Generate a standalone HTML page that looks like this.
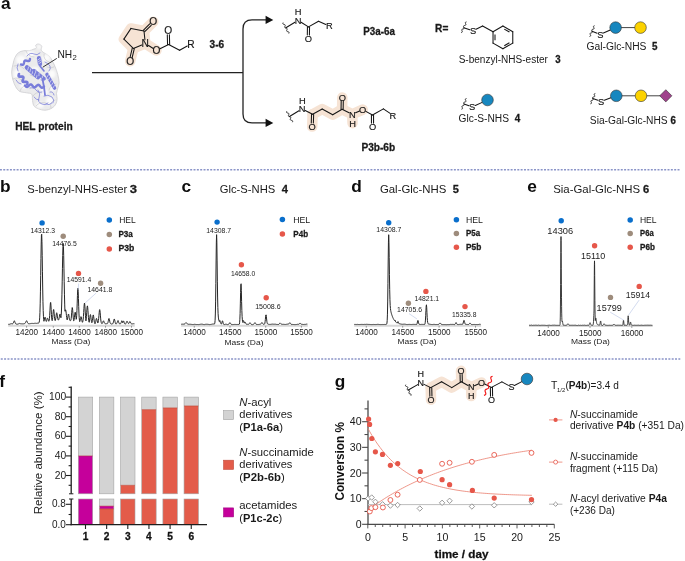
<!DOCTYPE html><html><head><meta charset="utf-8"><title>Figure</title><style>html,body{margin:0;padding:0;background:#fff;overflow:hidden}svg{display:block;will-change:transform}text{font-family:"Liberation Sans",sans-serif}</style></head><body>
<svg width="685" height="561" viewBox="0 0 685 561">
<rect width="685" height="561" fill="#fff"/>
<text x="1.10" y="8.80" font-size="16.5" fill="#0d0d0d" font-weight="bold" textLength="9.64" lengthAdjust="spacingAndGlyphs">a</text>
<defs><filter id="pb" x="-20%" y="-20%" width="140%" height="140%"><feGaussianBlur stdDeviation="0.45"/></filter><filter id="pb2" x="-20%" y="-20%" width="140%" height="140%"><feGaussianBlur stdDeviation="1.2"/></filter></defs>
<g filter="url(#pb)">
<path d="M38.4,44.0 C39.4,44.1 41.2,45.0 41.7,46.0 C42.2,47.0 40.8,48.9 41.1,50.0 C41.5,51.1 42.5,51.7 43.8,52.7 C45.1,53.7 47.8,54.8 49.1,56.0 C50.4,57.2 50.8,58.2 51.8,60.0 C52.8,61.8 54.1,64.2 55.1,66.7 C56.1,69.2 57.1,72.0 57.8,74.7 C58.5,77.4 59.1,80.6 59.1,82.8 C59.1,85.0 58.2,86.3 57.8,88.1 C57.4,89.9 56.6,91.7 56.5,93.5 C56.4,95.3 57.2,97.0 57.1,98.8 C57.0,100.6 56.7,102.5 55.8,104.1 C54.9,105.7 53.6,107.2 51.8,108.2 C50.0,109.2 47.3,110.1 45.1,110.2 C42.9,110.3 40.3,109.6 38.4,108.8 C36.5,108.0 34.7,107.2 33.7,105.5 C32.7,103.8 32.7,100.7 32.4,98.8 C32.1,96.9 32.7,95.1 31.7,94.1 C30.7,93.1 28.4,93.2 26.4,92.8 C24.4,92.3 21.5,92.4 19.7,91.4 C17.9,90.4 16.8,88.7 15.7,86.8 C14.6,84.9 13.7,82.5 13.0,80.1 C12.3,77.6 11.7,74.8 11.7,72.1 C11.7,69.4 12.4,66.5 13.0,64.1 C13.6,61.6 14.1,59.3 15.0,57.4 C15.9,55.5 16.9,53.8 18.4,52.7 C19.8,51.6 21.9,51.0 23.7,50.7 C25.5,50.4 27.5,50.9 29.1,50.7 C30.7,50.5 31.9,49.9 33.1,49.4 C34.3,48.9 36.0,48.7 36.4,48.0 C36.8,47.3 35.4,46.0 35.7,45.3 C36.0,44.6 37.4,43.9 38.4,44.0Z" fill="#ebebec" stroke="#cdcdd0" stroke-width="0.8"/>
<g filter="url(#pb2)" fill="#fbfbfb">
<ellipse cx="21" cy="60" rx="5" ry="4.5"/>
<ellipse cx="30" cy="54" rx="5" ry="3"/>
<ellipse cx="46" cy="58" rx="4" ry="3.5"/>
<ellipse cx="17" cy="74" rx="3.5" ry="5"/>
<ellipse cx="52" cy="74" rx="3.5" ry="4"/>
<ellipse cx="35" cy="70" rx="4" ry="3"/>
<ellipse cx="24" cy="86" rx="4" ry="3"/>
<ellipse cx="44" cy="92" rx="4" ry="3"/>
<ellipse cx="50" cy="101" rx="4" ry="4"/>
<ellipse cx="40" cy="105" rx="4" ry="3"/>
<ellipse cx="53" cy="88" rx="3" ry="3"/>
<ellipse cx="39" cy="47" rx="2" ry="2"/>
</g>
<g fill="none" stroke="#c4c4c8" stroke-width="0.6" stroke-linecap="round">
<path d="M14,66 q6,-2 10,3 M26,51 q2,6 8,6 M44,54 q-1,6 5,8 M13,79 q6,-3 9,2 M20,91 q2,-6 8,-6 M33,96 q3,-5 9,-3 M56,84 q-6,1 -7,6 M36,106 q4,-5 10,-3 M51,108 q-2,-6 4,-8 M30,75 q4,3 9,1 M47,67 q4,2 7,0"/>
</g>
<path d="M21.00,64.50 L21.57,64.65 L22.11,64.76 L22.59,64.77 L23.01,64.67 L23.34,64.44 L23.59,64.07 L23.78,63.60 L23.92,63.05 L24.04,62.47 L24.17,61.91 L24.34,61.41 L24.57,61.00 L24.87,60.73 L25.26,60.58 L25.72,60.56 L26.25,60.64 L26.81,60.78 L27.38,60.94 L27.93,61.06 L28.44,61.11 L28.88,61.05 L29.24,60.86 L29.52,60.54 L29.72,60.10 L29.88,59.57 L30.00,59.00" fill="none" stroke="#787cda" stroke-width="2.4" stroke-linecap="round" stroke-linejoin="round"/>
<line x1="39" y1="58" x2="40" y2="64" stroke="#787cda" stroke-width="4.2" stroke-linecap="round"/>
<line x1="40.38" y1="58.09" x2="37.96" y2="59.91" stroke="#e8e8f6" stroke-width="0.7" stroke-linecap="round"/>
<line x1="40.71" y1="60.09" x2="38.29" y2="61.91" stroke="#e8e8f6" stroke-width="0.7" stroke-linecap="round"/>
<line x1="41.04" y1="62.09" x2="38.62" y2="63.91" stroke="#e8e8f6" stroke-width="0.7" stroke-linecap="round"/>
<line x1="27" y1="67.5" x2="38" y2="77" stroke="#787cda" stroke-width="4.6" stroke-linecap="round"/>
<line x1="28.53" y1="66.88" x2="27.67" y2="70.02" stroke="#e8e8f6" stroke-width="0.7" stroke-linecap="round"/>
<line x1="30.73" y1="68.78" x2="29.87" y2="71.92" stroke="#e8e8f6" stroke-width="0.7" stroke-linecap="round"/>
<line x1="32.93" y1="70.68" x2="32.07" y2="73.82" stroke="#e8e8f6" stroke-width="0.7" stroke-linecap="round"/>
<line x1="35.13" y1="72.58" x2="34.27" y2="75.72" stroke="#e8e8f6" stroke-width="0.7" stroke-linecap="round"/>
<line x1="37.33" y1="74.48" x2="36.47" y2="77.62" stroke="#e8e8f6" stroke-width="0.7" stroke-linecap="round"/>
<line x1="34" y1="70.5" x2="44" y2="78.5" stroke="#787cda" stroke-width="3.2" stroke-linecap="round"/>
<line x1="35.76" y1="70.60" x2="35.57" y2="73.07" stroke="#e8e8f6" stroke-width="0.7" stroke-linecap="round"/>
<line x1="39.09" y1="73.26" x2="38.91" y2="75.74" stroke="#e8e8f6" stroke-width="0.7" stroke-linecap="round"/>
<line x1="42.43" y1="75.93" x2="42.24" y2="78.40" stroke="#e8e8f6" stroke-width="0.7" stroke-linecap="round"/>
<path d="M19.00,74.00 L18.78,74.66 L18.61,75.27 L18.57,75.79 L18.67,76.20 L18.95,76.48 L19.40,76.63 L19.98,76.67 L20.65,76.65 L21.35,76.60 L22.02,76.58 L22.60,76.62 L23.05,76.77 L23.33,77.05 L23.43,77.46 L23.39,77.98 L23.22,78.59 L23.00,79.25 L22.78,79.91 L22.61,80.52 L22.57,81.04 L22.67,81.45 L22.95,81.73 L23.40,81.88 L23.98,81.92 L24.65,81.90 L25.35,81.85 L26.02,81.83 L26.60,81.87 L27.05,82.02 L27.33,82.30 L27.43,82.71 L27.39,83.23 L27.22,83.84 L27.00,84.50" fill="none" stroke="#787cda" stroke-width="2.6" stroke-linecap="round" stroke-linejoin="round"/>
<path d="M25.00,85.50 L25.43,86.03 L25.85,86.50 L26.29,86.83 L26.74,86.99 L27.19,86.96 L27.66,86.74 L28.13,86.37 L28.61,85.90 L29.09,85.40 L29.57,84.95 L30.04,84.61 L30.50,84.42 L30.95,84.43 L31.40,84.62 L31.83,84.99 L32.26,85.47 L32.68,86.01 L33.11,86.54 L33.54,86.98 L33.98,87.28 L34.43,87.40 L34.88,87.33 L35.35,87.07 L35.83,86.68 L36.30,86.20 L36.78,85.71 L37.26,85.27 L37.73,84.96 L38.19,84.81 L38.64,84.85 L39.08,85.08 L39.52,85.47 L39.94,85.97 L40.37,86.52 L40.80,87.03 L41.23,87.45 L41.67,87.72 L42.12,87.80 L42.58,87.69 L43.05,87.40 L43.52,86.99 L44.00,86.50" fill="none" stroke="#787cda" stroke-width="2.4" stroke-linecap="round" stroke-linejoin="round"/>
<line x1="47" y1="74.5" x2="54.5" y2="88" stroke="#787cda" stroke-width="3.6" stroke-linecap="round"/>
<line x1="48.42" y1="74.68" x2="47.08" y2="77.02" stroke="#e8e8f6" stroke-width="0.7" stroke-linecap="round"/>
<line x1="49.92" y1="77.38" x2="48.58" y2="79.72" stroke="#e8e8f6" stroke-width="0.7" stroke-linecap="round"/>
<line x1="51.42" y1="80.08" x2="50.08" y2="82.42" stroke="#e8e8f6" stroke-width="0.7" stroke-linecap="round"/>
<line x1="52.92" y1="82.78" x2="51.58" y2="85.12" stroke="#e8e8f6" stroke-width="0.7" stroke-linecap="round"/>
<line x1="54.42" y1="85.48" x2="53.08" y2="87.82" stroke="#e8e8f6" stroke-width="0.7" stroke-linecap="round"/>
<path d="M42.5,79 L44,87 L45,95" fill="none" stroke="#787cda" stroke-width="1.8" stroke-linecap="round"/>
<path d="M40,66 L44,71" fill="none" stroke="#787cda" stroke-width="1.6" stroke-linecap="round"/>
<g fill="none" stroke="#787cda" stroke-width="0.75" stroke-linecap="round" stroke-linejoin="round">
<path d="M27,56 q3,-4 7,-2 q3,2 6,-1 M18,64 q-2,4 0,7 M16,80 q2,4 5,4 M30,88 q4,-1 6,2 q2,3 6,2 M38,90 q3,4 1,8 q-2,4 3,6 q3,2 6,-1 M44,96 q4,-2 8,1 q3,3 1,6 M46,104 q3,2 6,-1 M50,92 q3,-1 4,3 M41,80 q3,2 5,-1 M34,97 q2,3 5,3 M45,62 q3,1 5,4 q1,3 -1,5"/>
</g>
</g>
<line x1="56.80" y1="58.40" x2="42.80" y2="67.20" stroke="#222" stroke-width="0.9" />
<text x="57.40" y="57.90" font-size="10.2" fill="#1a1a1a">NH</text>
<text x="72.50" y="60.00" font-size="7.7" fill="#1a1a1a">2</text>
<text x="15.23" y="129.90" font-size="10.0" fill="#1a1a1a" font-weight="bold" stroke="#1a1a1a" stroke-width="0.28" textLength="57.5" lengthAdjust="spacingAndGlyphs">HEL protein</text>
<path d="M131.00,28.40 L144.00,31.00 L145.30,43.50 L133.30,48.40 L123.90,39.10 L131.00,28.40" fill="none" stroke="#f6e3d4" stroke-width="10.5" stroke-linejoin="round" stroke-linecap="round"/>
<path d="M144.00,31.00 L153.30,21.70" fill="none" stroke="#f6e3d4" stroke-width="10.5" stroke-linejoin="round" stroke-linecap="round"/>
<path d="M133.30,48.40 L130.20,61.30" fill="none" stroke="#f6e3d4" stroke-width="10.5" stroke-linejoin="round" stroke-linecap="round"/>
<path d="M145.30,43.50 L156.50,50.50" fill="none" stroke="#f6e3d4" stroke-width="10.5" stroke-linejoin="round" stroke-linecap="round"/>
<polygon points="131,28.4 144,31 145.3,43.5 133.3,48.4 123.9,39.1" fill="#f6e3d4"/>
<line x1="131.00" y1="28.40" x2="144.00" y2="31.00" stroke="#151515" stroke-width="1.05" stroke-linecap="round"/>
<line x1="144.00" y1="31.00" x2="144.91" y2="39.72" stroke="#151515" stroke-width="1.05" stroke-linecap="round"/>
<line x1="141.78" y1="44.94" x2="133.30" y2="48.40" stroke="#151515" stroke-width="1.05" stroke-linecap="round"/>
<line x1="133.30" y1="48.40" x2="123.90" y2="39.10" stroke="#151515" stroke-width="1.05" stroke-linecap="round"/>
<line x1="123.90" y1="39.10" x2="131.00" y2="28.40" stroke="#151515" stroke-width="1.05" stroke-linecap="round"/>
<line x1="143.26" y1="30.26" x2="149.73" y2="23.79" stroke="#151515" stroke-width="1.05" stroke-linecap="round"/>
<line x1="144.74" y1="31.74" x2="151.21" y2="25.27" stroke="#151515" stroke-width="1.05" stroke-linecap="round"/>
<line x1="134.32" y1="48.65" x2="132.16" y2="57.66" stroke="#151515" stroke-width="1.05" stroke-linecap="round"/>
<line x1="132.28" y1="48.15" x2="130.11" y2="57.17" stroke="#151515" stroke-width="1.05" stroke-linecap="round"/>
<line x1="148.52" y1="45.51" x2="153.28" y2="48.49" stroke="#151515" stroke-width="1.05" stroke-linecap="round"/>
<line x1="159.99" y1="48.77" x2="168.60" y2="44.50" stroke="#151515" stroke-width="1.05" stroke-linecap="round"/>
<line x1="167.55" y1="44.53" x2="167.30" y2="34.88" stroke="#151515" stroke-width="1.05" stroke-linecap="round"/>
<line x1="169.65" y1="44.47" x2="169.40" y2="34.82" stroke="#151515" stroke-width="1.05" stroke-linecap="round"/>
<line x1="168.60" y1="44.50" x2="179.60" y2="50.30" stroke="#151515" stroke-width="1.05" stroke-linecap="round"/>
<line x1="179.60" y1="50.30" x2="187.25" y2="45.97" stroke="#151515" stroke-width="1.05" stroke-linecap="round"/>
<text x="145.30" y="47.17" font-size="10.2" fill="#151515" text-anchor="middle" stroke="#151515" stroke-width="0.15">N</text>
<text x="153.30" y="25.37" font-size="10.2" fill="#151515" text-anchor="middle" stroke="#151515" stroke-width="0.15">O</text>
<text x="130.20" y="64.97" font-size="10.2" fill="#151515" text-anchor="middle" stroke="#151515" stroke-width="0.15">O</text>
<text x="156.50" y="54.17" font-size="10.2" fill="#151515" text-anchor="middle" stroke="#151515" stroke-width="0.15">O</text>
<text x="168.25" y="34.42" font-size="10.2" fill="#151515" text-anchor="middle" stroke="#151515" stroke-width="0.15">O</text>
<text x="190.90" y="47.57" font-size="10.2" fill="#151515" text-anchor="middle" stroke="#151515" stroke-width="0.15">R</text>
<text x="209.58" y="48.00" font-size="10.0" fill="#1a1a1a" font-weight="bold" stroke="#1a1a1a" stroke-width="0.28" textLength="14.58" lengthAdjust="spacingAndGlyphs">3-6</text>
<path d="M92,72.7 L243,72.7 M266,19.9 L252,19.9 Q243,19.9 243,28.9 L243,113.9 Q243,122.9 252,122.9 L266,122.9" fill="none" stroke="#222" stroke-width="1.3"/>
<path d="M265.6,15.8 L273.3,19.9 L265.6,24 Z M265.6,118.8 L273.3,122.9 L265.6,127 Z" fill="#111"/>
<path d="M283.10,22.60 L282.94,23.03 L282.85,23.43 L282.87,23.76 L283.04,24.02 L283.34,24.21 L283.75,24.34 L284.20,24.45 L284.63,24.58 L284.97,24.74 L285.19,24.98 L285.26,25.29 L285.20,25.67 L285.06,26.09 L284.89,26.52 L284.77,26.93 L284.75,27.29 L284.87,27.58 L285.13,27.79 L285.51,27.94 L285.95,28.05 L286.39,28.16 L286.77,28.31 L287.03,28.52 L287.15,28.81 L287.13,29.17 L287.01,29.58 L286.84,30.01 L286.70,30.43 L286.64,30.81 L286.71,31.12 L286.93,31.36 L287.27,31.52 L287.70,31.65 L288.15,31.76 L288.56,31.89 L288.86,32.08 L289.03,32.34 L289.05,32.67 L288.96,33.07 L288.80,33.50" fill="none" stroke="#151515" stroke-width="0.9"/>
<line x1="285.90" y1="27.80" x2="294.94" y2="22.20" stroke="#151515" stroke-width="1.05" stroke-linecap="round"/>
<line x1="301.05" y1="22.22" x2="308.50" y2="26.90" stroke="#151515" stroke-width="1.05" stroke-linecap="round"/>
<line x1="309.55" y1="26.92" x2="309.41" y2="34.92" stroke="#151515" stroke-width="1.05" stroke-linecap="round"/>
<line x1="307.45" y1="26.88" x2="307.31" y2="34.88" stroke="#151515" stroke-width="1.05" stroke-linecap="round"/>
<line x1="308.50" y1="26.90" x2="318.50" y2="21.20" stroke="#151515" stroke-width="1.05" stroke-linecap="round"/>
<line x1="318.50" y1="21.20" x2="325.84" y2="24.53" stroke="#151515" stroke-width="1.05" stroke-linecap="round"/>
<text x="298.00" y="23.65" font-size="9.3" fill="#151515" text-anchor="middle" stroke="#151515" stroke-width="0.15">N</text>
<text x="298.20" y="15.35" font-size="9.3" fill="#151515" text-anchor="middle" stroke="#151515" stroke-width="0.15">H</text>
<text x="308.30" y="41.85" font-size="9.3" fill="#151515" text-anchor="middle" stroke="#151515" stroke-width="0.15">O</text>
<text x="329.30" y="29.45" font-size="9.3" fill="#151515" text-anchor="middle" stroke="#151515" stroke-width="0.15">R</text>
<text x="363.15" y="35.00" font-size="10.5" fill="#1a1a1a" font-weight="bold" stroke="#1a1a1a" stroke-width="0.28" textLength="31.79" lengthAdjust="spacingAndGlyphs">P3a-6a</text>
<path d="M312.60,114.30 L322.20,109.00 L332.70,114.70 L342.10,109.30 L352.30,114.30 L362.70,109.60" fill="none" stroke="#f6e3d4" stroke-width="10.5" stroke-linejoin="round" stroke-linecap="round"/>
<path d="M312.60,114.30 L312.20,126.60" fill="none" stroke="#f6e3d4" stroke-width="10.5" stroke-linejoin="round" stroke-linecap="round"/>
<path d="M342.10,109.30 L342.30,97.50" fill="none" stroke="#f6e3d4" stroke-width="10.5" stroke-linejoin="round" stroke-linecap="round"/>
<path d="M352.30,114.30 L352.50,123.20" fill="none" stroke="#f6e3d4" stroke-width="10.5" stroke-linejoin="round" stroke-linecap="round"/>
<path d="M286.80,111.20 L286.64,111.63 L286.54,112.03 L286.56,112.36 L286.72,112.62 L287.03,112.82 L287.43,112.96 L287.88,113.07 L288.31,113.20 L288.66,113.37 L288.87,113.61 L288.94,113.92 L288.87,114.30 L288.72,114.72 L288.55,115.16 L288.43,115.57 L288.40,115.92 L288.52,116.21 L288.78,116.43 L289.16,116.58 L289.60,116.70 L290.04,116.82 L290.42,116.97 L290.68,117.19 L290.80,117.48 L290.77,117.83 L290.65,118.24 L290.48,118.68 L290.33,119.10 L290.26,119.48 L290.33,119.79 L290.54,120.03 L290.89,120.20 L291.32,120.33 L291.77,120.44 L292.17,120.58 L292.48,120.78 L292.64,121.04 L292.66,121.37 L292.56,121.77 L292.40,122.20" fill="none" stroke="#151515" stroke-width="0.9"/>
<line x1="289.50" y1="116.50" x2="298.93" y2="110.69" stroke="#151515" stroke-width="1.05" stroke-linecap="round"/>
<line x1="305.20" y1="110.46" x2="312.60" y2="114.30" stroke="#151515" stroke-width="1.05" stroke-linecap="round"/>
<line x1="313.65" y1="114.33" x2="313.37" y2="123.04" stroke="#151515" stroke-width="1.05" stroke-linecap="round"/>
<line x1="311.55" y1="114.27" x2="311.27" y2="122.97" stroke="#151515" stroke-width="1.05" stroke-linecap="round"/>
<line x1="312.60" y1="114.30" x2="322.20" y2="109.00" stroke="#151515" stroke-width="1.05" stroke-linecap="round"/>
<line x1="322.20" y1="109.00" x2="332.70" y2="114.70" stroke="#151515" stroke-width="1.05" stroke-linecap="round"/>
<line x1="332.70" y1="114.70" x2="342.10" y2="109.30" stroke="#151515" stroke-width="1.05" stroke-linecap="round"/>
<line x1="341.05" y1="109.28" x2="341.19" y2="101.08" stroke="#151515" stroke-width="1.05" stroke-linecap="round"/>
<line x1="343.15" y1="109.32" x2="343.29" y2="101.12" stroke="#151515" stroke-width="1.05" stroke-linecap="round"/>
<line x1="342.10" y1="109.30" x2="349.07" y2="112.72" stroke="#151515" stroke-width="1.05" stroke-linecap="round"/>
<line x1="355.58" y1="112.82" x2="359.60" y2="111.00" stroke="#151515" stroke-width="1.05" stroke-linecap="round"/>
<line x1="365.85" y1="111.34" x2="372.50" y2="115.00" stroke="#151515" stroke-width="1.05" stroke-linecap="round"/>
<line x1="373.55" y1="115.00" x2="373.55" y2="123.10" stroke="#151515" stroke-width="1.05" stroke-linecap="round"/>
<line x1="371.45" y1="115.00" x2="371.45" y2="123.10" stroke="#151515" stroke-width="1.05" stroke-linecap="round"/>
<line x1="372.50" y1="115.00" x2="383.40" y2="108.90" stroke="#151515" stroke-width="1.05" stroke-linecap="round"/>
<line x1="383.40" y1="108.90" x2="389.75" y2="113.18" stroke="#151515" stroke-width="1.05" stroke-linecap="round"/>
<text x="302.00" y="112.15" font-size="9.3" fill="#151515" text-anchor="middle" stroke="#151515" stroke-width="0.15">N</text>
<text x="302.30" y="103.65" font-size="9.3" fill="#151515" text-anchor="middle" stroke="#151515" stroke-width="0.15">H</text>
<text x="312.20" y="129.95" font-size="9.3" fill="#151515" text-anchor="middle" stroke="#151515" stroke-width="0.15">O</text>
<text x="342.30" y="100.85" font-size="9.3" fill="#151515" text-anchor="middle" stroke="#151515" stroke-width="0.15">O</text>
<text x="352.30" y="117.65" font-size="9.3" fill="#151515" text-anchor="middle" stroke="#151515" stroke-width="0.15">N</text>
<text x="352.50" y="126.55" font-size="9.3" fill="#151515" text-anchor="middle" stroke="#151515" stroke-width="0.15">H</text>
<text x="362.70" y="112.95" font-size="9.3" fill="#151515" text-anchor="middle" stroke="#151515" stroke-width="0.15">O</text>
<text x="372.50" y="130.05" font-size="9.3" fill="#151515" text-anchor="middle" stroke="#151515" stroke-width="0.15">O</text>
<text x="392.90" y="118.65" font-size="9.3" fill="#151515" text-anchor="middle" stroke="#151515" stroke-width="0.15">R</text>
<text x="361.43" y="150.60" font-size="10.5" fill="#1a1a1a" font-weight="bold" stroke="#1a1a1a" stroke-width="0.28" textLength="33.78" lengthAdjust="spacingAndGlyphs">P3b-6b</text>
<text x="435.13" y="31.90" font-size="10" fill="#1a1a1a" font-weight="bold" stroke="#1a1a1a" stroke-width="0.28" textLength="13.18" lengthAdjust="spacingAndGlyphs">R=</text>
<path d="M466.50,21.90 L466.06,22.01 L465.69,22.16 L465.43,22.37 L465.32,22.65 L465.35,23.00 L465.48,23.40 L465.66,23.83 L465.81,24.24 L465.88,24.61 L465.82,24.91 L465.61,25.14 L465.27,25.31 L464.85,25.43 L464.40,25.54 L464.00,25.67 L463.70,25.86 L463.54,26.11 L463.53,26.44 L463.63,26.83 L463.80,27.25 L463.97,27.67 L464.07,28.06 L464.06,28.39 L463.90,28.64 L463.60,28.83 L463.20,28.96 L462.75,29.07 L462.33,29.19 L461.99,29.36 L461.78,29.59 L461.72,29.89 L461.79,30.26 L461.94,30.67 L462.12,31.10 L462.25,31.50 L462.28,31.85 L462.17,32.13 L461.91,32.34 L461.54,32.49 L461.10,32.60" fill="none" stroke="#151515" stroke-width="0.9"/>
<line x1="463.80" y1="27.80" x2="469.77" y2="29.75" stroke="#151515" stroke-width="1.05" stroke-linecap="round"/>
<line x1="476.04" y1="29.28" x2="482.60" y2="26.00" stroke="#151515" stroke-width="1.05" stroke-linecap="round"/>
<line x1="482.60" y1="26.00" x2="493.03" y2="31.70" stroke="#151515" stroke-width="1.05" stroke-linecap="round"/>
<line x1="493.03" y1="31.70" x2="502.90" y2="26.00" stroke="#151515" stroke-width="1.05" stroke-linecap="round"/>
<line x1="502.90" y1="26.00" x2="512.77" y2="31.70" stroke="#151515" stroke-width="1.05" stroke-linecap="round"/>
<line x1="512.77" y1="31.70" x2="512.77" y2="43.10" stroke="#151515" stroke-width="1.05" stroke-linecap="round"/>
<line x1="512.77" y1="43.10" x2="502.90" y2="48.80" stroke="#151515" stroke-width="1.05" stroke-linecap="round"/>
<line x1="502.90" y1="48.80" x2="493.03" y2="43.10" stroke="#151515" stroke-width="1.05" stroke-linecap="round"/>
<line x1="493.03" y1="43.10" x2="493.03" y2="31.70" stroke="#151515" stroke-width="1.05" stroke-linecap="round"/>
<line x1="504.29" y1="29.08" x2="509.41" y2="32.04" stroke="#151515" stroke-width="1.05" />
<line x1="509.41" y1="42.76" x2="504.29" y2="45.72" stroke="#151515" stroke-width="1.05" />
<line x1="495.00" y1="40.36" x2="495.00" y2="34.44" stroke="#151515" stroke-width="1.05" />
<text x="473.00" y="34.15" font-size="9.3" fill="#151515" text-anchor="middle" stroke="#151515" stroke-width="0.15">S</text>
<text x="458.65" y="62.60" font-size="10" fill="#1a1a1a" textLength="89.31" lengthAdjust="spacingAndGlyphs">S-benzyl-NHS-ester</text>
<text x="555.19" y="62.60" font-size="10" fill="#1a1a1a" font-weight="bold" stroke="#1a1a1a" stroke-width="0.28" textLength="5.35" lengthAdjust="spacingAndGlyphs">3</text>
<path d="M466.50,98.50 L466.07,98.62 L465.70,98.77 L465.45,98.98 L465.35,99.26 L465.38,99.61 L465.53,100.01 L465.71,100.42 L465.88,100.83 L465.96,101.20 L465.90,101.50 L465.70,101.73 L465.37,101.90 L464.95,102.03 L464.51,102.15 L464.11,102.28 L463.82,102.47 L463.66,102.73 L463.66,103.05 L463.77,103.44 L463.95,103.85 L464.13,104.26 L464.24,104.65 L464.24,104.97 L464.08,105.23 L463.79,105.42 L463.39,105.55 L462.95,105.67 L462.53,105.80 L462.20,105.97 L462.00,106.20 L461.94,106.50 L462.02,106.87 L462.19,107.28 L462.37,107.69 L462.52,108.09 L462.55,108.44 L462.45,108.72 L462.20,108.93 L461.83,109.08 L461.40,109.20" fill="none" stroke="#151515" stroke-width="0.9"/>
<line x1="464.00" y1="104.00" x2="468.98" y2="105.70" stroke="#151515" stroke-width="1.05" stroke-linecap="round"/>
<line x1="475.31" y1="105.42" x2="482.20" y2="102.36" stroke="#151515" stroke-width="1.05" stroke-linecap="round"/>
<text x="472.20" y="110.15" font-size="9.3" fill="#151515" text-anchor="middle" stroke="#151515" stroke-width="0.15">S</text>
<circle cx="487.5" cy="100.0" r="5.8" fill="#1787bf" stroke="#333" stroke-width="0.6"/>
<text x="458.59" y="121.70" font-size="10" fill="#1a1a1a" textLength="50.47" lengthAdjust="spacingAndGlyphs">Glc-S-NHS</text>
<text x="514.65" y="121.70" font-size="10" fill="#1a1a1a" font-weight="bold" stroke="#1a1a1a" stroke-width="0.28" textLength="5.5" lengthAdjust="spacingAndGlyphs">4</text>
<path d="M594.60,25.70 L594.16,25.82 L593.80,25.98 L593.55,26.19 L593.45,26.48 L593.48,26.82 L593.63,27.22 L593.81,27.64 L593.98,28.05 L594.06,28.42 L594.00,28.72 L593.80,28.96 L593.47,29.13 L593.05,29.26 L592.61,29.38 L592.21,29.52 L591.92,29.72 L591.76,29.97 L591.76,30.30 L591.87,30.68 L592.05,31.10 L592.23,31.52 L592.34,31.90 L592.34,32.23 L592.18,32.48 L591.89,32.68 L591.49,32.82 L591.05,32.94 L590.63,33.07 L590.30,33.24 L590.10,33.48 L590.04,33.78 L590.12,34.15 L590.29,34.56 L590.47,34.98 L590.62,35.38 L590.65,35.72 L590.55,36.01 L590.30,36.22 L589.94,36.38 L589.50,36.50" fill="none" stroke="#151515" stroke-width="0.9"/>
<line x1="592.00" y1="31.20" x2="597.13" y2="33.18" stroke="#151515" stroke-width="1.05" stroke-linecap="round"/>
<line x1="603.41" y1="33.02" x2="610.30" y2="29.96" stroke="#151515" stroke-width="1.05" stroke-linecap="round"/>
<text x="600.30" y="37.75" font-size="9.3" fill="#151515" text-anchor="middle" stroke="#151515" stroke-width="0.15">S</text>
<line x1="615.60" y1="27.60" x2="640.50" y2="27.60" stroke="#444" stroke-width="1.0" />
<circle cx="615.6" cy="27.6" r="5.8" fill="#1787bf" stroke="#333" stroke-width="0.6"/>
<circle cx="640.5" cy="27.6" r="5.8" fill="#fcd200" stroke="#333" stroke-width="0.6"/>
<text x="586.49" y="49.80" font-size="10" fill="#1a1a1a" textLength="59.97" lengthAdjust="spacingAndGlyphs">Gal-Glc-NHS</text>
<text x="651.91" y="49.80" font-size="10" fill="#1a1a1a" font-weight="bold" stroke="#1a1a1a" stroke-width="0.28" textLength="5.46" lengthAdjust="spacingAndGlyphs">5</text>
<path d="M595.30,93.50 L594.87,93.61 L594.51,93.75 L594.26,93.95 L594.17,94.22 L594.21,94.56 L594.36,94.95 L594.55,95.35 L594.72,95.75 L594.80,96.10 L594.75,96.40 L594.56,96.62 L594.23,96.78 L593.81,96.90 L593.38,97.01 L592.98,97.13 L592.70,97.31 L592.55,97.56 L592.55,97.87 L592.67,98.25 L592.85,98.65 L593.03,99.05 L593.15,99.43 L593.15,99.74 L593.00,99.99 L592.72,100.17 L592.32,100.29 L591.89,100.40 L591.47,100.52 L591.14,100.68 L590.95,100.90 L590.90,101.20 L590.98,101.55 L591.15,101.95 L591.34,102.35 L591.49,102.74 L591.53,103.08 L591.44,103.35 L591.19,103.55 L590.83,103.69 L590.40,103.80" fill="none" stroke="#151515" stroke-width="0.9"/>
<line x1="592.80" y1="98.60" x2="597.88" y2="100.31" stroke="#151515" stroke-width="1.05" stroke-linecap="round"/>
<line x1="604.29" y1="100.22" x2="610.86" y2="97.81" stroke="#151515" stroke-width="1.05" stroke-linecap="round"/>
<text x="601.10" y="104.75" font-size="9.3" fill="#151515" text-anchor="middle" stroke="#151515" stroke-width="0.15">S</text>
<line x1="616.30" y1="95.80" x2="665.80" y2="95.80" stroke="#444" stroke-width="1.0" />
<circle cx="616.3" cy="95.8" r="5.8" fill="#1787bf" stroke="#333" stroke-width="0.6"/>
<circle cx="641.0" cy="95.8" r="5.8" fill="#fcd200" stroke="#333" stroke-width="0.6"/>
<polygon points="659.6999999999999,95.8 665.8,89.7 671.9,95.8 665.8,101.89999999999999" fill="#a0428c" stroke="#333" stroke-width="0.6"/>
<text x="589.84" y="124.40" font-size="10" fill="#1a1a1a" textLength="77.82" lengthAdjust="spacingAndGlyphs">Sia-Gal-Glc-NHS</text>
<text x="670.55" y="124.40" font-size="10" fill="#1a1a1a" font-weight="bold" stroke="#1a1a1a" stroke-width="0.28" textLength="5.39" lengthAdjust="spacingAndGlyphs">6</text>
<line x1="-0.1" y1="169.7" x2="679.5" y2="169.7" stroke="#8a94c8" stroke-width="1.5" stroke-dasharray="2 1.338"/>
<line x1="0.75" y1="358.9" x2="680.3" y2="358.9" stroke="#8a94c8" stroke-width="1.5" stroke-dasharray="2 1.338"/>
<text x="-0.03" y="191.60" font-size="16.5" fill="#0d0d0d" font-weight="bold" textLength="10.58" lengthAdjust="spacingAndGlyphs">b</text>
<text x="27.29" y="193.00" font-size="11" fill="#1a1a1a" textLength="100.09" lengthAdjust="spacingAndGlyphs">S-benzyl-NHS-ester</text>
<text x="129.71" y="193.00" font-size="11" fill="#1a1a1a" font-weight="bold" stroke="#1a1a1a" stroke-width="0.28" textLength="7.24" lengthAdjust="spacingAndGlyphs">3</text>
<line x1="8.2" y1="325.7" x2="134.7" y2="325.7" stroke="#d7d7d7" stroke-width="2"/>
<line x1="26.60" y1="325.90" x2="26.60" y2="327.70" stroke="#777" stroke-width="0.7" />
<text x="15.48" y="335.40" font-size="8.3" fill="#222" textLength="22.63" lengthAdjust="spacingAndGlyphs">14200</text>
<line x1="53.30" y1="325.90" x2="53.30" y2="327.70" stroke="#777" stroke-width="0.7" />
<text x="42.18" y="335.40" font-size="8.3" fill="#222" textLength="22.63" lengthAdjust="spacingAndGlyphs">14400</text>
<line x1="79.30" y1="325.90" x2="79.30" y2="327.70" stroke="#777" stroke-width="0.7" />
<text x="68.18" y="335.40" font-size="8.3" fill="#222" textLength="22.63" lengthAdjust="spacingAndGlyphs">14600</text>
<line x1="105.50" y1="325.90" x2="105.50" y2="327.70" stroke="#777" stroke-width="0.7" />
<text x="94.38" y="335.40" font-size="8.3" fill="#222" textLength="22.63" lengthAdjust="spacingAndGlyphs">14800</text>
<line x1="131.50" y1="325.90" x2="131.50" y2="327.70" stroke="#777" stroke-width="0.7" />
<text x="120.38" y="335.40" font-size="8.3" fill="#222" textLength="22.63" lengthAdjust="spacingAndGlyphs">15000</text>
<path d="M8.20,324.38 L8.45,324.43 L8.70,324.23 L8.95,324.18 L9.20,324.24 L9.45,324.24 L9.70,324.27 L9.95,324.14 L10.20,324.04 L10.45,323.94 L10.70,323.87 L10.95,323.98 L11.20,323.89 L11.45,323.74 L11.70,323.67 L11.95,323.67 L12.20,323.79 L12.45,323.71 L12.70,323.76 L12.95,323.53 L13.20,323.23 L13.45,322.73 L13.70,321.99 L13.95,321.42 L14.20,320.87 L14.45,320.81 L14.70,321.46 L14.95,322.18 L15.20,322.88 L15.45,323.43 L15.70,323.78 L15.95,324.04 L16.20,323.95 L16.45,324.11 L16.70,324.21 L16.95,324.21 L17.20,324.21 L17.45,324.21 L17.70,324.09 L17.95,324.02 L18.20,323.91 L18.45,323.88 L18.70,323.75 L18.95,323.73 L19.20,323.53 L19.45,323.49 L19.70,323.50 L19.95,323.48 L20.20,323.61 L20.45,323.68 L20.70,323.72 L20.95,323.76 L21.20,323.78 L21.45,323.78 L21.70,323.84 L21.95,323.77 L22.20,323.86 L22.45,323.86 L22.70,323.77 L22.95,323.86 L23.20,323.83 L23.45,323.80 L23.70,323.79 L23.95,323.60 L24.20,323.62 L24.45,323.63 L24.70,323.45 L24.95,323.47 L25.20,323.26 L25.45,322.97 L25.70,322.35 L25.95,321.73 L26.20,321.19 L26.45,320.89 L26.70,320.67 L26.95,321.12 L27.20,321.73 L27.45,322.39 L27.70,322.80 L27.95,323.35 L28.20,323.55 L28.45,323.65 L28.70,323.67 L28.95,323.84 L29.20,323.76 L29.45,323.78 L29.70,323.71 L29.95,323.75 L30.20,323.61 L30.45,323.62 L30.70,323.56 L30.95,323.45 L31.20,323.40 L31.45,323.51 L31.70,323.35 L31.95,323.24 L32.20,323.36 L32.45,323.39 L32.70,323.42 L32.95,323.44 L33.20,323.51 L33.45,323.52 L33.70,323.40 L33.95,323.43 L34.20,323.42 L34.45,323.38 L34.70,323.27 L34.95,323.27 L35.20,323.37 L35.45,323.25 L35.70,323.22 L35.95,323.29 L36.20,323.32 L36.45,323.44 L36.70,323.26 L36.95,323.31 L37.20,323.22 L37.45,323.20 L37.70,323.21 L37.95,323.13 L38.20,323.10 L38.45,323.10 L38.70,323.02 L38.95,322.82 L39.20,322.18 L39.45,320.85 L39.70,317.85 L39.95,312.50 L40.20,303.80 L40.45,291.15 L40.70,275.40 L40.95,258.62 L41.20,244.09 L41.45,235.16 L41.70,234.23 L41.95,241.61 L42.20,255.27 L42.45,271.81 L42.70,287.97 L42.95,301.22 L43.20,310.47 L43.45,316.32 L43.70,319.62 L43.95,321.28 L44.20,320.28 L44.45,319.05 L44.70,317.81 L44.95,317.15 L45.20,317.27 L45.45,318.29 L45.70,319.59 L45.95,320.73 L46.20,321.42 L46.45,321.33 L46.70,320.51 L46.95,319.55 L47.20,318.50 L47.45,318.07 L47.70,318.18 L47.95,318.87 L48.20,319.75 L48.45,320.68 L48.70,321.17 L48.95,321.24 L49.20,320.32 L49.45,318.57 L49.70,315.33 L49.95,310.87 L50.20,305.98 L50.45,302.72 L50.70,302.36 L50.95,305.12 L51.20,309.77 L51.45,314.56 L51.70,318.03 L51.95,320.05 L52.20,320.66 L52.45,319.61 L52.70,317.63 L52.95,314.76 L53.20,311.82 L53.45,309.73 L53.70,309.45 L53.95,311.05 L54.20,313.89 L54.45,316.80 L54.70,318.88 L54.95,320.02 L55.20,320.62 L55.45,320.05 L55.70,318.94 L55.95,317.27 L56.20,315.25 L56.45,313.44 L56.70,312.74 L56.95,313.37 L57.20,314.97 L57.45,316.93 L57.70,318.53 L57.95,319.46 L58.20,319.95 L58.45,320.11 L58.70,319.72 L58.95,318.93 L59.20,317.70 L59.45,316.23 L59.70,314.79 L59.95,313.99 L60.20,314.36 L60.45,315.47 L60.70,317.00 L60.95,317.78 L61.20,315.29 L61.45,311.00 L61.70,304.00 L61.95,294.18 L62.20,281.83 L62.45,268.23 L62.70,255.62 L62.95,246.71 L63.20,243.42 L63.45,246.64 L63.70,255.54 L63.95,268.13 L64.20,281.76 L64.45,294.18 L64.70,304.09 L64.95,311.23 L65.20,311.20 L65.45,309.83 L65.70,309.87 L65.95,311.06 L66.20,313.20 L66.45,315.47 L66.70,317.59 L66.95,319.08 L67.20,320.00 L67.45,319.36 L67.70,318.07 L67.95,316.31 L68.20,314.83 L68.45,313.99 L68.70,314.36 L68.95,315.70 L69.20,317.45 L69.45,318.84 L69.70,319.84 L69.95,320.49 L70.20,320.77 L70.45,320.71 L70.70,320.51 L70.95,319.87 L71.20,318.49 L71.45,315.95 L71.70,312.79 L71.95,309.56 L72.20,307.54 L72.45,307.79 L72.70,310.29 L72.95,313.81 L73.20,317.11 L73.45,319.33 L73.70,320.80 L73.95,320.59 L74.20,319.23 L74.45,317.28 L74.70,314.95 L74.95,312.94 L75.20,312.19 L75.45,312.98 L75.70,315.09 L75.95,317.43 L76.20,319.34 L76.45,318.96 L76.70,315.62 L76.95,310.35 L77.20,303.11 L77.45,295.44 L77.70,289.83 L77.95,288.28 L78.20,291.66 L78.45,298.51 L78.70,306.34 L78.95,313.10 L79.20,317.67 L79.45,320.28 L79.70,321.65 L79.95,321.11 L80.20,320.12 L80.45,318.56 L80.70,317.32 L80.95,316.62 L81.20,316.92 L81.45,318.06 L81.70,319.53 L81.95,320.79 L82.20,321.83 L82.45,322.31 L82.70,321.88 L82.95,320.87 L83.20,319.09 L83.45,316.33 L83.70,312.53 L83.95,308.32 L84.20,304.74 L84.45,303.08 L84.70,303.82 L84.95,306.87 L85.20,311.11 L85.45,315.31 L85.70,318.60 L85.95,320.88 L86.20,319.17 L86.45,316.33 L86.70,312.72 L86.95,309.08 L87.20,306.48 L87.45,305.87 L87.70,307.27 L87.95,310.47 L88.20,314.19 L88.45,317.65 L88.70,320.21 L88.95,321.83 L89.20,322.29 L89.45,320.94 L89.70,318.93 L89.95,316.83 L90.20,315.08 L90.45,314.57 L90.70,315.54 L90.95,317.63 L91.20,319.84 L91.45,321.42 L91.70,322.52 L91.95,322.75 L92.20,321.86 L92.45,320.30 L92.70,318.12 L92.95,316.13 L93.20,314.95 L93.45,315.15 L93.70,316.79 L93.95,318.94 L94.20,321.02 L94.45,322.38 L94.70,323.22 L94.95,323.80 L95.20,323.49 L95.45,322.68 L95.70,321.50 L95.95,320.22 L96.20,319.03 L96.45,318.38 L96.70,318.70 L96.95,319.64 L97.20,320.92 L97.45,321.99 L97.70,322.80 L97.95,322.94 L98.20,321.98 L98.45,320.53 L98.70,318.33 L98.95,315.56 L99.20,312.75 L99.45,310.37 L99.70,309.58 L99.95,310.49 L100.20,312.83 L100.45,315.88 L100.70,318.90 L100.95,321.07 L101.20,322.36 L101.45,323.13 L101.70,323.51 L101.95,323.68 L102.20,323.54 L102.45,323.23 L102.70,322.64 L102.95,321.82 L103.20,321.10 L103.45,320.84 L103.70,320.91 L103.95,321.63 L104.20,322.38 L104.45,322.99 L104.70,323.32 L104.95,323.54 L105.20,323.68 L105.45,323.70 L105.70,323.75 L105.95,323.83 L106.20,323.70 L106.45,323.73 L106.70,323.72 L106.95,323.69 L107.20,323.69 L107.45,323.46 L107.70,323.28 L107.95,322.58 L108.20,321.46 L108.45,320.28 L108.70,318.93 L108.95,318.44 L109.20,318.70 L109.45,319.65 L109.70,321.13 L109.95,322.29 L110.20,323.05 L110.45,323.45 L110.70,323.67 L110.95,323.87 L111.20,323.91 L111.45,323.94 L111.70,324.03 L111.95,323.91 L112.20,323.81 L112.45,323.80 L112.70,323.81 L112.95,323.43 L113.20,322.85 L113.45,321.83 L113.70,320.80 L113.95,319.64 L114.20,319.03 L114.45,319.15 L114.70,320.08 L114.95,321.26 L115.20,322.45 L115.45,323.29 L115.70,323.87 L115.95,324.00 L116.20,323.96 L116.45,323.73 L116.70,323.50 L116.95,322.97 L117.20,322.44 L117.45,321.65 L117.70,320.99 L117.95,320.49 L118.20,320.66 L118.45,321.41 L118.70,322.30 L118.95,323.03 L119.20,323.58 L119.45,323.68 L119.70,323.72 L119.95,323.64 L120.20,323.72 L120.45,323.67 L120.70,323.55 L120.95,323.14 L121.20,322.50 L121.45,321.61 L121.70,320.88 L121.95,320.70 L122.20,321.18 L122.45,322.04 L122.70,322.75 L122.95,322.32 L123.20,321.50 L123.45,320.97 L123.70,320.98 L123.95,321.66 L124.20,322.55 L124.45,323.42 L124.70,323.77 L124.95,324.08 L125.20,324.01 L125.45,324.01 L125.70,323.82 L125.95,323.43 L126.20,322.87 L126.45,322.19 L126.70,321.50 L126.95,321.22 L127.20,321.29 L127.45,321.88 L127.70,322.42 L127.95,322.86 L128.20,323.29 L128.45,323.50 L128.70,323.54 L128.95,323.35 L129.20,322.90 L129.45,322.27 L129.70,321.67 L129.95,321.51 L130.20,321.70 L130.45,322.15 L130.70,322.89 L130.95,323.27 L131.20,323.50 L131.45,323.82 L131.70,323.94 L131.95,323.85 L132.20,323.78 L132.45,323.85 L132.70,323.87 L132.95,323.74 L133.20,323.76 L133.45,323.76 L133.70,323.68 L133.95,323.67 L134.20,323.77 L134.45,323.73" fill="none" stroke="#262626" stroke-width="1.0" stroke-linejoin="round"/>
<circle cx="42.1" cy="222.9" r="2.7" fill="#0a6fcc"/>
<circle cx="63.2" cy="236.2" r="2.7" fill="#9e8c7c"/>
<circle cx="78.5" cy="273.4" r="2.7" fill="#e6574a"/>
<circle cx="100.6" cy="283.3" r="2.7" fill="#9e8c7c"/>
<text x="30.48" y="232.70" font-size="6.8" fill="#222" textLength="24.51" lengthAdjust="spacingAndGlyphs">14312.3</text>
<text x="52.18" y="245.80" font-size="6.8" fill="#222" textLength="24.59" lengthAdjust="spacingAndGlyphs">14476.5</text>
<text x="66.68" y="282.30" font-size="6.8" fill="#222" textLength="24.51" lengthAdjust="spacingAndGlyphs">14591.4</text>
<text x="87.48" y="291.90" font-size="6.8" fill="#222" textLength="24.82" lengthAdjust="spacingAndGlyphs">14641.8</text>
<line x1="78.70" y1="283.50" x2="78.10" y2="290.10" stroke="#b6c2e4" stroke-width="0.6" />
<line x1="96.20" y1="293.00" x2="85.10" y2="303.00" stroke="#b6c2e4" stroke-width="0.6" />
<text x="51.41" y="344.40" font-size="7.8" fill="#222" textLength="39.02" lengthAdjust="spacingAndGlyphs">Mass (Da)</text>
<circle cx="109.3" cy="219.9" r="2.75" fill="#0a6fcc"/>
<circle cx="109.3" cy="234.6" r="2.75" fill="#9e8c7c"/>
<circle cx="109.3" cy="248.9" r="2.75" fill="#e6574a"/>
<text x="119.20" y="222.70" font-size="9.0" fill="#1a1a1a" textLength="16.58" lengthAdjust="spacingAndGlyphs">HEL</text>
<text x="118.47" y="236.80" font-size="8.6" fill="#1a1a1a" font-weight="bold" stroke="#1a1a1a" stroke-width="0.28" textLength="14.38" lengthAdjust="spacingAndGlyphs">P3a</text>
<text x="118.43" y="251.00" font-size="8.6" fill="#1a1a1a" font-weight="bold" stroke="#1a1a1a" stroke-width="0.28" textLength="15.82" lengthAdjust="spacingAndGlyphs">P3b</text>
<text x="181.42" y="191.70" font-size="16.5" fill="#0d0d0d" font-weight="bold" textLength="9.64" lengthAdjust="spacingAndGlyphs">c</text>
<text x="219.74" y="193.10" font-size="11" fill="#1a1a1a" textLength="55.57" lengthAdjust="spacingAndGlyphs">Glc-S-NHS</text>
<text x="281.83" y="193.10" font-size="11" fill="#1a1a1a" font-weight="bold" stroke="#1a1a1a" stroke-width="0.28" textLength="6.23" lengthAdjust="spacingAndGlyphs">4</text>
<line x1="181.1" y1="325.7" x2="307.8" y2="325.7" stroke="#d7d7d7" stroke-width="2"/>
<line x1="194.30" y1="325.90" x2="194.30" y2="327.70" stroke="#777" stroke-width="0.7" />
<text x="183.18" y="335.40" font-size="8.3" fill="#222" textLength="22.63" lengthAdjust="spacingAndGlyphs">14000</text>
<line x1="230.00" y1="325.90" x2="230.00" y2="327.70" stroke="#777" stroke-width="0.7" />
<text x="218.88" y="335.40" font-size="8.3" fill="#222" textLength="22.63" lengthAdjust="spacingAndGlyphs">14500</text>
<line x1="265.70" y1="325.90" x2="265.70" y2="327.70" stroke="#777" stroke-width="0.7" />
<text x="254.58" y="335.40" font-size="8.3" fill="#222" textLength="22.63" lengthAdjust="spacingAndGlyphs">15000</text>
<line x1="301.40" y1="325.90" x2="301.40" y2="327.70" stroke="#777" stroke-width="0.7" />
<text x="290.28" y="335.40" font-size="8.3" fill="#222" textLength="22.63" lengthAdjust="spacingAndGlyphs">15500</text>
<path d="M181.10,324.23 L181.35,324.24 L181.60,324.19 L181.85,324.22 L182.10,324.18 L182.35,324.20 L182.60,324.19 L182.85,324.12 L183.10,324.16 L183.35,324.19 L183.60,324.15 L183.85,324.14 L184.10,324.10 L184.35,324.10 L184.60,323.94 L184.85,323.73 L185.10,323.52 L185.35,323.14 L185.60,322.84 L185.85,322.68 L186.10,322.66 L186.35,322.75 L186.60,322.95 L186.85,323.31 L187.10,323.61 L187.35,323.83 L187.60,324.09 L187.85,324.15 L188.10,324.25 L188.35,324.27 L188.60,324.28 L188.85,324.27 L189.10,324.26 L189.35,324.29 L189.60,324.26 L189.85,324.25 L190.10,324.26 L190.35,324.23 L190.60,324.32 L190.85,324.40 L191.10,324.40 L191.35,324.39 L191.60,324.40 L191.85,324.47 L192.10,324.48 L192.35,324.46 L192.60,324.55 L192.85,324.46 L193.10,324.43 L193.35,324.49 L193.60,324.44 L193.85,324.44 L194.10,324.34 L194.35,324.33 L194.60,324.39 L194.85,324.34 L195.10,324.43 L195.35,324.42 L195.60,324.41 L195.85,324.46 L196.10,324.47 L196.35,324.52 L196.60,324.54 L196.85,324.56 L197.10,324.55 L197.35,324.53 L197.60,324.50 L197.85,324.50 L198.10,324.50 L198.35,324.55 L198.60,324.60 L198.85,324.53 L199.10,324.46 L199.35,324.49 L199.60,324.41 L199.85,324.46 L200.10,324.39 L200.35,324.33 L200.60,324.22 L200.85,324.21 L201.10,324.19 L201.35,324.18 L201.60,324.14 L201.85,324.25 L202.10,324.20 L202.35,324.23 L202.60,324.29 L202.85,324.38 L203.10,324.39 L203.35,324.48 L203.60,324.48 L203.85,324.49 L204.10,324.42 L204.35,324.52 L204.60,324.58 L204.85,324.53 L205.10,324.45 L205.35,324.38 L205.60,324.30 L205.85,324.33 L206.10,324.35 L206.35,324.34 L206.60,324.23 L206.85,324.17 L207.10,324.19 L207.35,324.24 L207.60,324.33 L207.85,324.38 L208.10,324.38 L208.35,324.39 L208.60,324.44 L208.85,324.44 L209.10,324.50 L209.35,324.55 L209.60,324.59 L209.85,324.57 L210.10,324.53 L210.35,324.52 L210.60,324.46 L210.85,324.45 L211.10,324.45 L211.35,324.35 L211.60,324.28 L211.85,324.20 L212.10,324.14 L212.35,324.10 L212.60,324.06 L212.85,324.06 L213.10,324.00 L213.35,324.03 L213.60,324.03 L213.85,324.11 L214.10,324.15 L214.35,324.06 L214.60,323.82 L214.85,322.93 L215.10,320.29 L215.35,313.99 L215.60,301.92 L215.85,283.34 L216.10,260.97 L216.35,242.10 L216.60,234.64 L216.85,242.08 L217.10,260.93 L217.35,281.15 L217.60,297.04 L217.85,307.64 L218.10,313.72 L218.35,317.10 L218.60,318.93 L218.85,320.08 L219.10,320.95 L219.35,321.55 L219.60,320.71 L219.85,320.45 L220.10,321.15 L220.35,322.36 L220.60,323.32 L220.85,323.61 L221.10,323.76 L221.35,323.91 L221.60,323.77 L221.85,322.96 L222.10,321.82 L222.35,320.91 L222.60,320.84 L222.85,321.64 L223.10,322.76 L223.35,323.74 L223.60,324.28 L223.85,324.53 L224.10,324.50 L224.35,324.54 L224.60,324.56 L224.85,324.47 L225.10,324.36 L225.35,324.30 L225.60,324.24 L225.85,324.22 L226.10,324.25 L226.35,324.28 L226.60,324.33 L226.85,324.41 L227.10,324.52 L227.35,324.56 L227.60,324.56 L227.85,324.55 L228.10,324.48 L228.35,324.36 L228.60,324.31 L228.85,324.13 L229.10,323.82 L229.35,323.35 L229.60,322.94 L229.85,322.71 L230.10,322.66 L230.35,322.97 L230.60,323.48 L230.85,323.93 L231.10,324.24 L231.35,324.39 L231.60,324.44 L231.85,324.50 L232.10,324.45 L232.35,324.54 L232.60,324.58 L232.85,324.52 L233.10,324.47 L233.35,324.50 L233.60,324.52 L233.85,324.52 L234.10,324.44 L234.35,324.42 L234.60,324.44 L234.85,324.42 L235.10,324.39 L235.35,324.44 L235.60,324.44 L235.85,324.43 L236.10,324.45 L236.35,324.50 L236.60,324.50 L236.85,324.40 L237.10,324.42 L237.35,324.48 L237.60,324.44 L237.85,324.43 L238.10,324.41 L238.35,324.47 L238.60,324.50 L238.85,324.49 L239.10,324.44 L239.35,324.00 L239.60,322.80 L239.85,319.79 L240.10,313.54 L240.35,303.84 L240.60,292.62 L240.85,284.56 L241.10,283.75 L241.35,290.65 L241.60,301.61 L241.85,310.39 L242.10,316.38 L242.35,319.85 L242.60,321.57 L242.85,322.49 L243.10,321.65 L243.35,320.71 L243.60,320.62 L243.85,321.34 L244.10,322.39 L244.35,323.11 L244.60,322.48 L244.85,322.11 L245.10,322.09 L245.35,322.41 L245.60,322.97 L245.85,323.50 L246.10,323.95 L246.35,324.27 L246.60,324.30 L246.85,324.38 L247.10,324.36 L247.35,324.31 L247.60,324.34 L247.85,324.37 L248.10,324.37 L248.35,324.37 L248.60,324.31 L248.85,324.18 L249.10,323.89 L249.35,323.50 L249.60,323.09 L249.85,322.78 L250.10,322.74 L250.35,322.99 L250.60,323.39 L250.85,323.82 L251.10,324.18 L251.35,324.40 L251.60,324.54 L251.85,324.55 L252.10,324.55 L252.35,324.61 L252.60,324.64 L252.85,324.60 L253.10,324.49 L253.35,324.44 L253.60,324.27 L253.85,324.04 L254.10,323.75 L254.35,323.40 L254.60,322.98 L254.85,322.72 L255.10,322.70 L255.35,323.00 L255.60,323.40 L255.85,323.79 L256.10,324.16 L256.35,324.44 L256.60,324.47 L256.85,324.52 L257.10,324.47 L257.35,324.51 L257.60,324.54 L257.85,324.56 L258.10,324.57 L258.35,324.51 L258.60,324.46 L258.85,324.47 L259.10,324.38 L259.35,324.37 L259.60,324.40 L259.85,324.28 L260.10,324.24 L260.35,324.24 L260.60,324.12 L260.85,323.93 L261.10,323.66 L261.35,323.28 L261.60,322.81 L261.85,322.54 L262.10,322.60 L262.35,322.91 L262.60,323.30 L262.85,323.76 L263.10,324.05 L263.35,324.26 L263.60,324.32 L263.85,324.36 L264.10,324.29 L264.35,324.22 L264.60,323.93 L264.85,323.23 L265.10,321.74 L265.35,319.54 L265.60,316.87 L265.85,315.00 L266.10,314.80 L266.35,316.39 L266.60,318.97 L266.85,321.23 L267.10,322.63 L267.35,323.51 L267.60,323.86 L267.85,324.07 L268.10,324.10 L268.35,324.25 L268.60,324.29 L268.85,324.35 L269.10,324.37 L269.35,324.42 L269.60,324.39 L269.85,324.43 L270.10,324.37 L270.35,324.38 L270.60,324.35 L270.85,324.37 L271.10,324.28 L271.35,324.25 L271.60,324.21 L271.85,324.17 L272.10,324.10 L272.35,324.10 L272.60,324.18 L272.85,324.15 L273.10,324.18 L273.35,324.19 L273.60,324.21 L273.85,324.21 L274.10,324.22 L274.35,324.18 L274.60,324.23 L274.85,324.21 L275.10,324.19 L275.35,324.19 L275.60,324.28 L275.85,324.25 L276.10,324.35 L276.35,324.37 L276.60,324.43 L276.85,324.44 L277.10,324.42 L277.35,324.46 L277.60,324.48 L277.85,324.49 L278.10,324.51 L278.35,324.49 L278.60,324.46 L278.85,324.35 L279.10,324.06 L279.35,323.74 L279.60,323.34 L279.85,323.04 L280.10,322.90 L280.35,323.15 L280.60,323.41 L280.85,323.68 L281.10,323.87 L281.35,324.07 L281.60,324.21 L281.85,324.31 L282.10,324.33 L282.35,324.36 L282.60,324.30 L282.85,324.33 L283.10,324.33 L283.35,324.37 L283.60,324.30 L283.85,324.31 L284.10,324.35 L284.35,324.38 L284.60,324.38 L284.85,324.46 L285.10,324.44 L285.35,324.47 L285.60,324.41 L285.85,324.43 L286.10,324.37 L286.35,324.31 L286.60,324.27 L286.85,324.30 L287.10,324.19 L287.35,324.18 L287.60,324.15 L287.85,324.20 L288.10,324.15 L288.35,324.07 L288.60,323.97 L288.85,323.83 L289.10,323.57 L289.35,323.27 L289.60,322.93 L289.85,322.73 L290.10,322.74 L290.35,323.07 L290.60,323.49 L290.85,323.88 L291.10,324.26 L291.35,324.38 L291.60,324.48 L291.85,324.50 L292.10,324.44 L292.35,324.46 L292.60,324.46 L292.85,324.49 L293.10,324.54 L293.35,324.52 L293.60,324.51 L293.85,324.49 L294.10,324.47 L294.35,324.57 L294.60,324.56 L294.85,324.56 L295.10,324.55 L295.35,324.57 L295.60,324.56 L295.85,324.62 L296.10,324.59 L296.35,324.53 L296.60,324.45 L296.85,324.39 L297.10,324.31 L297.35,324.34 L297.60,324.30 L297.85,324.29 L298.10,324.27 L298.35,324.31 L298.60,324.31 L298.85,324.18 L299.10,324.04 L299.35,323.84 L299.60,323.50 L299.85,323.30 L300.10,323.28 L300.35,323.39 L300.60,323.68 L300.85,323.94 L301.10,324.16 L301.35,324.23 L301.60,324.28 L301.85,324.27 L302.10,324.30 L302.35,324.34 L302.60,324.40 L302.85,324.35 L303.10,324.38 L303.35,324.45 L303.60,324.51 L303.85,324.50 L304.10,324.55 L304.35,324.47 L304.60,324.37 L304.85,324.35 L305.10,324.39 L305.35,324.37 L305.60,324.35 L305.85,324.26 L306.10,324.20 L306.35,324.15 L306.60,324.18 L306.85,324.20 L307.10,324.21 L307.35,324.12" fill="none" stroke="#262626" stroke-width="1.0" stroke-linejoin="round"/>
<circle cx="217.1" cy="222.1" r="2.7" fill="#0a6fcc"/>
<circle cx="241.4" cy="264.7" r="2.7" fill="#e6574a"/>
<circle cx="266.2" cy="297.7" r="2.7" fill="#e6574a"/>
<text x="206.28" y="232.90" font-size="6.8" fill="#222" textLength="24.87" lengthAdjust="spacingAndGlyphs">14308.7</text>
<text x="230.89" y="276.40" font-size="6.8" fill="#222" textLength="24.37" lengthAdjust="spacingAndGlyphs">14658.0</text>
<text x="255.17" y="308.50" font-size="6.8" fill="#222" textLength="25.44" lengthAdjust="spacingAndGlyphs">15008.6</text>
<text x="224.51" y="344.50" font-size="7.8" fill="#222" textLength="39.02" lengthAdjust="spacingAndGlyphs">Mass (Da)</text>
<circle cx="282.4" cy="219.6" r="2.75" fill="#0a6fcc"/>
<circle cx="282.4" cy="234.1" r="2.75" fill="#e6574a"/>
<text x="293.18" y="222.70" font-size="9.0" fill="#1a1a1a" textLength="17.01" lengthAdjust="spacingAndGlyphs">HEL</text>
<text x="293.37" y="236.60" font-size="9.0" fill="#1a1a1a" font-weight="bold" stroke="#1a1a1a" stroke-width="0.28" textLength="14.76" lengthAdjust="spacingAndGlyphs">P4b</text>
<text x="351.39" y="191.60" font-size="16.5" fill="#0d0d0d" font-weight="bold" textLength="10.58" lengthAdjust="spacingAndGlyphs">d</text>
<text x="379.93" y="192.90" font-size="11" fill="#1a1a1a" textLength="66.48" lengthAdjust="spacingAndGlyphs">Gal-Glc-NHS</text>
<text x="452.67" y="192.90" font-size="11" fill="#1a1a1a" font-weight="bold" stroke="#1a1a1a" stroke-width="0.28" textLength="6.13" lengthAdjust="spacingAndGlyphs">5</text>
<line x1="354.2" y1="325.7" x2="481.1" y2="325.7" stroke="#d7d7d7" stroke-width="2"/>
<line x1="366.30" y1="325.90" x2="366.30" y2="327.70" stroke="#777" stroke-width="0.7" />
<text x="355.18" y="335.40" font-size="8.3" fill="#222" textLength="22.63" lengthAdjust="spacingAndGlyphs">14000</text>
<line x1="402.70" y1="325.90" x2="402.70" y2="327.70" stroke="#777" stroke-width="0.7" />
<text x="391.58" y="335.40" font-size="8.3" fill="#222" textLength="22.63" lengthAdjust="spacingAndGlyphs">14500</text>
<line x1="439.10" y1="325.90" x2="439.10" y2="327.70" stroke="#777" stroke-width="0.7" />
<text x="427.98" y="335.40" font-size="8.3" fill="#222" textLength="22.63" lengthAdjust="spacingAndGlyphs">15000</text>
<line x1="475.50" y1="325.90" x2="475.50" y2="327.70" stroke="#777" stroke-width="0.7" />
<text x="464.38" y="335.40" font-size="8.3" fill="#222" textLength="22.63" lengthAdjust="spacingAndGlyphs">15500</text>
<path d="M354.20,324.38 L354.45,324.40 L354.70,324.47 L354.95,324.42 L355.20,324.44 L355.45,324.45 L355.70,324.42 L355.95,324.44 L356.20,324.43 L356.45,324.47 L356.70,324.50 L356.95,324.42 L357.20,324.44 L357.45,324.39 L357.70,324.38 L357.95,324.47 L358.20,324.49 L358.45,324.50 L358.70,324.49 L358.95,324.49 L359.20,324.49 L359.45,324.49 L359.70,324.55 L359.95,324.57 L360.20,324.52 L360.45,324.47 L360.70,324.42 L360.95,324.40 L361.20,324.36 L361.45,324.43 L361.70,324.42 L361.95,324.44 L362.20,324.45 L362.45,324.42 L362.70,324.45 L362.95,324.47 L363.20,324.45 L363.45,324.46 L363.70,324.47 L363.95,324.47 L364.20,324.44 L364.45,324.36 L364.70,324.41 L364.95,324.47 L365.20,324.44 L365.45,324.43 L365.70,324.40 L365.95,324.36 L366.20,324.35 L366.45,324.30 L366.70,324.34 L366.95,324.37 L367.20,324.33 L367.45,324.35 L367.70,324.41 L367.95,324.41 L368.20,324.42 L368.45,324.43 L368.70,324.48 L368.95,324.53 L369.20,324.44 L369.45,324.46 L369.70,324.48 L369.95,324.43 L370.20,324.45 L370.45,324.49 L370.70,324.57 L370.95,324.52 L371.20,324.50 L371.45,324.58 L371.70,324.55 L371.95,324.55 L372.20,324.54 L372.45,324.55 L372.70,324.52 L372.95,324.48 L373.20,324.55 L373.45,324.48 L373.70,324.42 L373.95,324.49 L374.20,324.48 L374.45,324.52 L374.70,324.53 L374.95,324.56 L375.20,324.56 L375.45,324.48 L375.70,324.55 L375.95,324.55 L376.20,324.51 L376.45,324.47 L376.70,324.47 L376.95,324.46 L377.20,324.37 L377.45,324.38 L377.70,324.39 L377.95,324.38 L378.20,324.35 L378.45,324.39 L378.70,324.45 L378.95,324.45 L379.20,324.49 L379.45,324.51 L379.70,324.52 L379.95,324.55 L380.20,324.50 L380.45,324.59 L380.70,324.55 L380.95,324.51 L381.20,324.54 L381.45,324.51 L381.70,324.55 L381.95,324.50 L382.20,324.54 L382.45,324.54 L382.70,324.45 L382.95,324.51 L383.20,324.49 L383.45,324.50 L383.70,324.56 L383.95,324.55 L384.20,324.54 L384.45,324.46 L384.70,324.45 L384.95,324.49 L385.20,324.45 L385.45,324.53 L385.70,324.47 L385.95,324.38 L386.20,324.37 L386.45,324.31 L386.70,324.05 L386.95,323.15 L387.20,320.52 L387.45,314.15 L387.70,301.96 L387.95,283.28 L388.20,261.00 L388.45,242.10 L388.70,234.71 L388.95,242.10 L389.20,257.31 L389.45,274.78 L389.70,289.64 L389.95,299.69 L390.20,305.46 L390.45,308.57 L390.70,310.43 L390.95,311.66 L391.20,312.77 L391.45,313.65 L391.70,314.51 L391.95,315.24 L392.20,315.92 L392.45,316.60 L392.70,317.26 L392.95,317.83 L393.20,318.37 L393.45,318.80 L393.70,319.29 L393.95,319.71 L394.20,320.12 L394.45,320.55 L394.70,320.53 L394.95,320.07 L395.20,320.33 L395.45,321.21 L395.70,322.03 L395.95,322.24 L396.20,322.43 L396.45,322.56 L396.70,322.69 L396.95,322.89 L397.20,322.96 L397.45,322.89 L397.70,322.04 L397.95,321.52 L398.20,321.75 L398.45,322.47 L398.70,323.39 L398.95,323.63 L399.20,323.65 L399.45,323.75 L399.70,323.77 L399.95,323.85 L400.20,323.91 L400.45,323.97 L400.70,324.04 L400.95,324.09 L401.20,324.15 L401.45,324.18 L401.70,324.21 L401.95,324.27 L402.20,324.27 L402.45,324.31 L402.70,324.26 L402.95,324.23 L403.20,324.24 L403.45,324.19 L403.70,324.21 L403.95,324.20 L404.20,324.20 L404.45,324.20 L404.70,324.17 L404.95,324.25 L405.20,324.27 L405.45,324.30 L405.70,324.29 L405.95,324.39 L406.20,324.42 L406.45,324.48 L406.70,324.53 L406.95,324.61 L407.20,324.55 L407.45,324.56 L407.70,324.51 L407.95,324.59 L408.20,324.51 L408.45,324.48 L408.70,324.40 L408.95,324.31 L409.20,324.33 L409.45,324.42 L409.70,324.42 L409.95,324.47 L410.20,324.44 L410.45,324.48 L410.70,324.49 L410.95,324.55 L411.20,324.56 L411.45,324.49 L411.70,324.45 L411.95,324.43 L412.20,324.40 L412.45,324.45 L412.70,324.40 L412.95,324.38 L413.20,324.39 L413.45,324.38 L413.70,324.38 L413.95,324.41 L414.20,324.45 L414.45,324.43 L414.70,324.34 L414.95,324.37 L415.20,324.39 L415.45,324.39 L415.70,324.48 L415.95,324.53 L416.20,324.53 L416.45,324.51 L416.70,324.40 L416.95,324.02 L417.20,323.18 L417.45,321.91 L417.70,320.76 L417.95,320.38 L418.20,321.04 L418.45,322.25 L418.70,323.34 L418.95,324.06 L419.20,324.33 L419.45,324.37 L419.70,324.42 L419.95,324.44 L420.20,324.47 L420.45,324.47 L420.70,324.46 L420.95,324.45 L421.20,324.40 L421.45,324.40 L421.70,324.39 L421.95,324.42 L422.20,324.39 L422.45,324.40 L422.70,324.41 L422.95,324.38 L423.20,324.43 L423.45,324.42 L423.70,324.43 L423.95,324.47 L424.20,324.49 L424.45,324.53 L424.70,324.40 L424.95,323.91 L425.20,322.73 L425.45,320.08 L425.70,315.70 L425.95,310.35 L426.20,305.97 L426.45,304.79 L426.70,307.39 L426.95,312.46 L427.20,317.50 L427.45,320.61 L427.70,322.47 L427.95,323.40 L428.20,323.82 L428.45,324.00 L428.70,324.05 L428.95,324.20 L429.20,324.19 L429.45,324.20 L429.70,324.24 L429.95,324.21 L430.20,324.28 L430.45,324.34 L430.70,324.41 L430.95,324.45 L431.20,324.46 L431.45,324.51 L431.70,324.51 L431.95,324.56 L432.20,324.59 L432.45,324.54 L432.70,324.47 L432.95,324.44 L433.20,324.42 L433.45,324.40 L433.70,324.43 L433.95,324.48 L434.20,324.41 L434.45,324.44 L434.70,324.42 L434.95,324.43 L435.20,324.48 L435.45,324.53 L435.70,324.56 L435.95,324.55 L436.20,324.52 L436.45,324.53 L436.70,324.51 L436.95,324.57 L437.20,324.55 L437.45,324.49 L437.70,324.50 L437.95,324.44 L438.20,324.41 L438.45,324.40 L438.70,324.39 L438.95,324.17 L439.20,323.83 L439.45,323.51 L439.70,323.21 L439.95,322.97 L440.20,323.03 L440.45,323.28 L440.70,323.65 L440.95,323.98 L441.20,324.22 L441.45,324.34 L441.70,324.39 L441.95,324.38 L442.20,324.46 L442.45,324.55 L442.70,324.63 L442.95,324.64 L443.20,324.60 L443.45,324.59 L443.70,324.65 L443.95,324.62 L444.20,324.62 L444.45,324.60 L444.70,324.60 L444.95,324.56 L445.20,324.58 L445.45,324.63 L445.70,324.63 L445.95,324.58 L446.20,324.63 L446.45,324.66 L446.70,324.70 L446.95,324.62 L447.20,324.62 L447.45,324.62 L447.70,324.58 L447.95,324.63 L448.20,324.70 L448.45,324.62 L448.70,324.55 L448.95,324.54 L449.20,324.58 L449.45,324.55 L449.70,324.54 L449.95,324.51 L450.20,324.46 L450.45,324.39 L450.70,324.38 L450.95,324.41 L451.20,324.40 L451.45,324.39 L451.70,324.47 L451.95,324.39 L452.20,324.38 L452.45,324.38 L452.70,324.41 L452.95,324.42 L453.20,324.45 L453.45,324.42 L453.70,324.44 L453.95,324.42 L454.20,324.50 L454.45,324.56 L454.70,324.51 L454.95,324.34 L455.20,324.08 L455.45,323.51 L455.70,322.91 L455.95,322.58 L456.20,322.66 L456.45,323.18 L456.70,323.73 L456.95,324.15 L457.20,324.42 L457.45,324.46 L457.70,324.47 L457.95,324.51 L458.20,324.56 L458.45,324.57 L458.70,324.49 L458.95,324.45 L459.20,324.44 L459.45,324.40 L459.70,324.38 L459.95,324.44 L460.20,324.40 L460.45,324.30 L460.70,324.31 L460.95,324.33 L461.20,324.34 L461.45,324.35 L461.70,324.32 L461.95,324.35 L462.20,324.34 L462.45,324.29 L462.70,324.18 L462.95,323.73 L463.20,323.01 L463.45,321.92 L463.70,320.80 L463.95,320.28 L464.20,320.50 L464.45,321.36 L464.70,322.48 L464.95,323.45 L465.20,324.06 L465.45,324.27 L465.70,324.37 L465.95,324.46 L466.20,324.40 L466.45,324.45 L466.70,324.52 L466.95,324.61 L467.20,324.53 L467.45,324.52 L467.70,324.53 L467.95,324.56 L468.20,324.51 L468.45,324.53 L468.70,324.46 L468.95,324.25 L469.20,323.91 L469.45,323.63 L469.70,323.23 L469.95,323.11 L470.20,323.13 L470.45,323.43 L470.70,323.76 L470.95,324.08 L471.20,324.33 L471.45,324.47 L471.70,324.45 L471.95,324.55 L472.20,324.54 L472.45,324.58 L472.70,324.56 L472.95,324.55 L473.20,324.52 L473.45,324.47 L473.70,324.49 L473.95,324.52 L474.20,324.53 L474.45,324.47 L474.70,324.46 L474.95,324.52 L475.20,324.56 L475.45,324.56 L475.70,324.55 L475.95,324.50 L476.20,324.50 L476.45,324.50 L476.70,324.58 L476.95,324.61 L477.20,324.63 L477.45,324.58 L477.70,324.54 L477.95,324.57 L478.20,324.52 L478.45,324.50 L478.70,324.46 L478.95,324.38 L479.20,324.35 L479.45,324.29 L479.70,324.30 L479.95,324.33 L480.20,324.33 L480.45,324.37 L480.70,324.42" fill="none" stroke="#262626" stroke-width="1.0" stroke-linejoin="round"/>
<circle cx="388.7" cy="222.7" r="2.7" fill="#0a6fcc"/>
<circle cx="425.9" cy="291.4" r="2.7" fill="#e6574a"/>
<circle cx="408.4" cy="303.3" r="2.7" fill="#9e8c7c"/>
<circle cx="465.0" cy="306.6" r="2.7" fill="#e6574a"/>
<text x="376.38" y="231.80" font-size="6.8" fill="#222" textLength="24.97" lengthAdjust="spacingAndGlyphs">14308.7</text>
<text x="414.48" y="301.30" font-size="6.8" fill="#222" textLength="24.64" lengthAdjust="spacingAndGlyphs">14821.1</text>
<text x="397.08" y="312.30" font-size="6.8" fill="#222" textLength="24.92" lengthAdjust="spacingAndGlyphs">14705.6</text>
<text x="452.09" y="316.60" font-size="6.8" fill="#222" textLength="24.4" lengthAdjust="spacingAndGlyphs">15335.8</text>
<line x1="409.00" y1="313.60" x2="416.90" y2="318.90" stroke="#b6c2e4" stroke-width="0.6" />
<text x="397.51" y="344.40" font-size="7.8" fill="#222" textLength="39.02" lengthAdjust="spacingAndGlyphs">Mass (Da)</text>
<circle cx="456.4" cy="219.8" r="2.75" fill="#0a6fcc"/>
<circle cx="456.4" cy="233.6" r="2.75" fill="#9e8c7c"/>
<circle cx="456.4" cy="247.2" r="2.75" fill="#e6574a"/>
<text x="465.98" y="222.70" font-size="9.0" fill="#1a1a1a" textLength="17.01" lengthAdjust="spacingAndGlyphs">HEL</text>
<text x="466.08" y="235.70" font-size="8.2" fill="#1a1a1a" font-weight="bold" stroke="#1a1a1a" stroke-width="0.28" textLength="14.07" lengthAdjust="spacingAndGlyphs">P5a</text>
<text x="466.05" y="249.50" font-size="8.2" fill="#1a1a1a" font-weight="bold" stroke="#1a1a1a" stroke-width="0.28" textLength="15.29" lengthAdjust="spacingAndGlyphs">P5b</text>
<text x="527.32" y="191.80" font-size="16.5" fill="#0d0d0d" font-weight="bold" textLength="9.64" lengthAdjust="spacingAndGlyphs">e</text>
<text x="553.19" y="192.90" font-size="11" fill="#1a1a1a" textLength="86.83" lengthAdjust="spacingAndGlyphs">Sia-Gal-Glc-NHS</text>
<text x="643.10" y="192.90" font-size="11" fill="#1a1a1a" font-weight="bold" stroke="#1a1a1a" stroke-width="0.28" textLength="6.19" lengthAdjust="spacingAndGlyphs">6</text>
<line x1="529.0" y1="326.0" x2="652.7" y2="326.0" stroke="#d7d7d7" stroke-width="2"/>
<line x1="548.30" y1="326.20" x2="548.30" y2="328.00" stroke="#777" stroke-width="0.7" />
<text x="537.18" y="335.60" font-size="8.3" fill="#222" textLength="22.63" lengthAdjust="spacingAndGlyphs">14000</text>
<line x1="590.00" y1="326.20" x2="590.00" y2="328.00" stroke="#777" stroke-width="0.7" />
<text x="578.88" y="335.60" font-size="8.3" fill="#222" textLength="22.63" lengthAdjust="spacingAndGlyphs">15000</text>
<line x1="631.80" y1="326.20" x2="631.80" y2="328.00" stroke="#777" stroke-width="0.7" />
<text x="620.68" y="335.60" font-size="8.3" fill="#222" textLength="22.63" lengthAdjust="spacingAndGlyphs">16000</text>
<path d="M529.00,325.36 L529.10,325.36 L529.20,325.32 L529.30,325.32 L529.40,325.33 L529.50,325.35 L529.60,325.32 L529.70,325.27 L529.80,325.24 L529.90,325.26 L530.00,325.27 L530.10,325.26 L530.20,325.30 L530.30,325.32 L530.40,325.31 L530.50,325.35 L530.60,325.34 L530.70,325.33 L530.80,325.31 L530.90,325.26 L531.00,325.27 L531.10,325.21 L531.20,325.14 L531.30,325.12 L531.40,325.11 L531.50,325.16 L531.60,325.21 L531.70,325.21 L531.80,325.25 L531.90,325.29 L532.00,325.30 L532.10,325.32 L532.20,325.37 L532.30,325.41 L532.40,325.41 L532.50,325.43 L532.60,325.40 L532.70,325.38 L532.80,325.35 L532.90,325.32 L533.00,325.36 L533.10,325.31 L533.20,325.30 L533.30,325.26 L533.40,325.28 L533.50,325.32 L533.60,325.31 L533.70,325.30 L533.80,325.37 L533.90,325.34 L534.00,325.39 L534.10,325.35 L534.20,325.33 L534.30,325.30 L534.40,325.30 L534.50,325.32 L534.60,325.31 L534.70,325.26 L534.80,325.30 L534.90,325.28 L535.00,325.26 L535.10,325.27 L535.20,325.23 L535.30,325.17 L535.40,325.22 L535.50,325.22 L535.60,325.24 L535.70,325.20 L535.80,325.16 L535.90,325.20 L536.00,325.20 L536.10,325.24 L536.20,325.24 L536.30,325.21 L536.40,325.22 L536.50,325.19 L536.60,325.24 L536.70,325.28 L536.80,325.25 L536.90,325.31 L537.00,325.28 L537.10,325.30 L537.20,325.33 L537.30,325.37 L537.40,325.35 L537.50,325.35 L537.60,325.31 L537.70,325.30 L537.80,325.29 L537.90,325.30 L538.00,325.30 L538.10,325.23 L538.20,325.19 L538.30,325.23 L538.40,325.17 L538.50,325.20 L538.60,325.21 L538.70,325.18 L538.80,325.23 L538.90,325.25 L539.00,325.29 L539.10,325.35 L539.20,325.32 L539.30,325.31 L539.40,325.34 L539.50,325.37 L539.60,325.36 L539.70,325.29 L539.80,325.31 L539.90,325.34 L540.00,325.29 L540.10,325.35 L540.20,325.41 L540.30,325.39 L540.40,325.35 L540.50,325.34 L540.60,325.33 L540.70,325.35 L540.80,325.29 L540.90,325.33 L541.00,325.28 L541.10,325.27 L541.20,325.27 L541.30,325.26 L541.40,325.27 L541.50,325.32 L541.60,325.25 L541.70,325.25 L541.80,325.24 L541.90,325.29 L542.00,325.27 L542.10,325.24 L542.20,325.29 L542.30,325.30 L542.40,325.24 L542.50,325.26 L542.60,325.27 L542.70,325.23 L542.80,325.18 L542.90,325.16 L543.00,325.18 L543.10,325.12 L543.20,325.13 L543.30,325.20 L543.40,325.26 L543.50,325.28 L543.60,325.33 L543.70,325.36 L543.80,325.34 L543.90,325.30 L544.00,325.29 L544.10,325.33 L544.20,325.32 L544.30,325.32 L544.40,325.27 L544.50,325.26 L544.60,325.25 L544.70,325.30 L544.80,325.32 L544.90,325.40 L545.00,325.33 L545.10,325.32 L545.20,325.30 L545.30,325.37 L545.40,325.38 L545.50,325.40 L545.60,325.40 L545.70,325.45 L545.80,325.40 L545.90,325.45 L546.00,325.48 L546.10,325.49 L546.20,325.45 L546.30,325.45 L546.40,325.47 L546.50,325.45 L546.60,325.43 L546.70,325.43 L546.80,325.42 L546.90,325.40 L547.00,325.33 L547.10,325.35 L547.20,325.37 L547.30,325.37 L547.40,325.38 L547.50,325.36 L547.60,325.39 L547.70,325.39 L547.80,325.38 L547.90,325.44 L548.00,325.39 L548.10,325.37 L548.20,325.31 L548.30,325.30 L548.40,325.30 L548.50,325.26 L548.60,325.27 L548.70,325.28 L548.80,325.26 L548.90,325.33 L549.00,325.29 L549.10,325.28 L549.20,325.26 L549.30,325.28 L549.40,325.27 L549.50,325.23 L549.60,325.26 L549.70,325.27 L549.80,325.23 L549.90,325.28 L550.00,325.31 L550.10,325.34 L550.20,325.30 L550.30,325.32 L550.40,325.37 L550.50,325.37 L550.60,325.38 L550.70,325.38 L550.80,325.36 L550.90,325.35 L551.00,325.31 L551.10,325.34 L551.20,325.37 L551.30,325.37 L551.40,325.36 L551.50,325.36 L551.60,325.35 L551.70,325.32 L551.80,325.33 L551.90,325.34 L552.00,325.32 L552.10,325.28 L552.20,325.27 L552.30,325.25 L552.40,325.20 L552.50,325.24 L552.60,325.31 L552.70,325.31 L552.80,325.29 L552.90,325.28 L553.00,325.32 L553.10,325.27 L553.20,325.29 L553.30,325.31 L553.40,325.26 L553.50,325.25 L553.60,325.21 L553.70,325.22 L553.80,325.25 L553.90,325.18 L554.00,325.25 L554.10,325.21 L554.20,325.18 L554.30,325.15 L554.40,325.14 L554.50,325.18 L554.60,325.22 L554.70,325.23 L554.80,325.29 L554.90,325.30 L555.00,325.34 L555.10,325.34 L555.20,325.38 L555.30,325.34 L555.40,325.31 L555.50,325.30 L555.60,325.30 L555.70,325.25 L555.80,325.19 L555.90,325.17 L556.00,325.21 L556.10,325.21 L556.20,325.25 L556.30,325.31 L556.40,325.30 L556.50,325.31 L556.60,325.36 L556.70,325.35 L556.80,325.40 L556.90,325.40 L557.00,325.37 L557.10,325.35 L557.20,325.34 L557.30,325.38 L557.40,325.35 L557.50,325.32 L557.60,325.39 L557.70,325.38 L557.80,325.39 L557.90,325.42 L558.00,325.44 L558.10,325.40 L558.20,325.39 L558.30,325.42 L558.40,325.43 L558.50,325.42 L558.60,325.37 L558.70,325.37 L558.80,325.41 L558.90,325.43 L559.00,325.46 L559.10,325.47 L559.20,325.43 L559.30,325.45 L559.40,325.46 L559.50,325.47 L559.60,325.40 L559.70,325.34 L559.80,325.25 L559.90,325.10 L560.00,324.65 L560.10,323.60 L560.20,321.39 L560.30,317.12 L560.40,309.97 L560.50,299.10 L560.60,284.65 L560.70,268.12 L560.80,252.27 L560.90,240.73 L561.00,236.54 L561.10,240.76 L561.20,252.33 L561.30,268.13 L561.40,284.74 L561.50,297.26 L561.60,306.66 L561.70,313.13 L561.80,317.28 L561.90,319.79 L562.00,321.27 L562.10,321.54 L562.20,321.16 L562.30,321.00 L562.40,321.16 L562.50,321.50 L562.60,322.07 L562.70,322.72 L562.80,323.38 L562.90,324.00 L563.00,324.43 L563.10,324.79 L563.20,325.07 L563.30,325.12 L563.40,325.17 L563.50,325.20 L563.60,325.24 L563.70,325.24 L563.80,325.24 L563.90,325.24 L564.00,325.27 L564.10,325.24 L564.20,325.24 L564.30,325.27 L564.40,325.30 L564.50,325.31 L564.60,325.33 L564.70,325.29 L564.80,325.33 L564.90,325.29 L565.00,325.32 L565.10,325.37 L565.20,325.33 L565.30,325.32 L565.40,325.29 L565.50,325.27 L565.60,325.33 L565.70,325.36 L565.80,325.37 L565.90,325.32 L566.00,325.25 L566.10,325.28 L566.20,325.31 L566.30,325.30 L566.40,325.31 L566.50,325.22 L566.60,325.13 L566.70,325.07 L566.80,325.04 L566.90,324.97 L567.00,324.86 L567.10,324.72 L567.20,324.59 L567.30,324.44 L567.40,324.30 L567.50,324.17 L567.60,324.04 L567.70,323.87 L567.80,323.79 L567.90,323.74 L568.00,323.70 L568.10,323.75 L568.20,323.79 L568.30,323.89 L568.40,323.99 L568.50,324.16 L568.60,324.34 L568.70,324.49 L568.80,324.67 L568.90,324.82 L569.00,324.97 L569.10,325.04 L569.20,325.16 L569.30,325.27 L569.40,325.34 L569.50,325.34 L569.60,325.35 L569.70,325.37 L569.80,325.35 L569.90,325.37 L570.00,325.42 L570.10,325.38 L570.20,325.33 L570.30,325.32 L570.40,325.32 L570.50,325.30 L570.60,325.29 L570.70,325.31 L570.80,325.29 L570.90,325.23 L571.00,325.25 L571.10,325.29 L571.20,325.23 L571.30,325.23 L571.40,325.27 L571.50,325.28 L571.60,325.32 L571.70,325.27 L571.80,325.30 L571.90,325.33 L572.00,325.31 L572.10,325.37 L572.20,325.37 L572.30,325.32 L572.40,325.25 L572.50,325.18 L572.60,325.21 L572.70,325.21 L572.80,325.20 L572.90,325.17 L573.00,325.13 L573.10,325.13 L573.20,325.19 L573.30,325.26 L573.40,325.33 L573.50,325.30 L573.60,325.26 L573.70,325.29 L573.80,325.32 L573.90,325.36 L574.00,325.37 L574.10,325.34 L574.20,325.31 L574.30,325.27 L574.40,325.31 L574.50,325.30 L574.60,325.28 L574.70,325.31 L574.80,325.27 L574.90,325.28 L575.00,325.30 L575.10,325.29 L575.20,325.27 L575.30,325.24 L575.40,325.28 L575.50,325.22 L575.60,325.22 L575.70,325.27 L575.80,325.29 L575.90,325.30 L576.00,325.32 L576.10,325.34 L576.20,325.37 L576.30,325.37 L576.40,325.45 L576.50,325.44 L576.60,325.40 L576.70,325.42 L576.80,325.41 L576.90,325.42 L577.00,325.45 L577.10,325.44 L577.20,325.47 L577.30,325.46 L577.40,325.45 L577.50,325.49 L577.60,325.48 L577.70,325.45 L577.80,325.45 L577.90,325.39 L578.00,325.38 L578.10,325.35 L578.20,325.28 L578.30,325.25 L578.40,325.24 L578.50,325.23 L578.60,325.22 L578.70,325.23 L578.80,325.28 L578.90,325.28 L579.00,325.30 L579.10,325.34 L579.20,325.36 L579.30,325.34 L579.40,325.37 L579.50,325.40 L579.60,325.38 L579.70,325.39 L579.80,325.44 L579.90,325.39 L580.00,325.39 L580.10,325.41 L580.20,325.40 L580.30,325.35 L580.40,325.30 L580.50,325.26 L580.60,325.23 L580.70,325.16 L580.80,325.18 L580.90,325.20 L581.00,325.19 L581.10,325.21 L581.20,325.25 L581.30,325.29 L581.40,325.36 L581.50,325.38 L581.60,325.44 L581.70,325.42 L581.80,325.40 L581.90,325.41 L582.00,325.38 L582.10,325.37 L582.20,325.34 L582.30,325.30 L582.40,325.26 L582.50,325.24 L582.60,325.28 L582.70,325.24 L582.80,325.25 L582.90,325.28 L583.00,325.25 L583.10,325.28 L583.20,325.28 L583.30,325.28 L583.40,325.30 L583.50,325.29 L583.60,325.31 L583.70,325.29 L583.80,325.28 L583.90,325.24 L584.00,325.21 L584.10,325.19 L584.20,325.18 L584.30,325.19 L584.40,325.17 L584.50,325.22 L584.60,325.22 L584.70,325.20 L584.80,325.28 L584.90,325.34 L585.00,325.34 L585.10,325.40 L585.20,325.37 L585.30,325.38 L585.40,325.39 L585.50,325.35 L585.60,325.38 L585.70,325.38 L585.80,325.36 L585.90,325.39 L586.00,325.40 L586.10,325.43 L586.20,325.44 L586.30,325.37 L586.40,325.40 L586.50,325.40 L586.60,325.34 L586.70,325.29 L586.80,325.29 L586.90,325.22 L587.00,325.19 L587.10,325.20 L587.20,325.22 L587.30,325.20 L587.40,325.21 L587.50,325.22 L587.60,325.28 L587.70,325.28 L587.80,325.35 L587.90,325.39 L588.00,325.40 L588.10,325.38 L588.20,325.36 L588.30,325.38 L588.40,325.41 L588.50,325.38 L588.60,325.34 L588.70,325.25 L588.80,325.17 L588.90,325.07 L589.00,324.98 L589.10,324.86 L589.20,324.64 L589.30,324.34 L589.40,324.02 L589.50,323.76 L589.60,323.50 L589.70,323.23 L589.80,322.96 L589.90,322.77 L590.00,322.69 L590.10,322.71 L590.20,322.90 L590.30,323.11 L590.40,323.36 L590.50,323.60 L590.60,323.85 L590.70,324.19 L590.80,324.49 L590.90,324.72 L591.00,324.88 L591.10,324.99 L591.20,325.08 L591.30,325.13 L591.40,325.22 L591.50,325.30 L591.60,325.26 L591.70,325.24 L591.80,325.26 L591.90,325.28 L592.00,325.30 L592.10,325.30 L592.20,325.31 L592.30,325.27 L592.40,325.27 L592.50,325.29 L592.60,325.32 L592.70,325.32 L592.80,325.26 L592.90,325.17 L593.00,325.08 L593.10,324.88 L593.20,324.51 L593.30,323.86 L593.40,322.94 L593.50,321.70 L593.60,319.98 L593.70,317.95 L593.80,315.67 L593.90,313.26 L594.00,310.98 L594.10,302.01 L594.20,288.98 L594.30,275.35 L594.40,264.78 L594.50,260.85 L594.60,264.83 L594.70,275.33 L594.80,288.97 L594.90,300.32 L595.00,308.98 L595.10,314.84 L595.20,318.47 L595.30,320.60 L595.40,319.93 L595.50,319.14 L595.60,318.53 L595.70,318.10 L595.80,317.98 L595.90,318.17 L596.00,318.65 L596.10,319.30 L596.20,320.01 L596.30,320.73 L596.40,321.46 L596.50,322.10 L596.60,322.71 L596.70,323.20 L596.80,323.54 L596.90,323.81 L597.00,324.04 L597.10,324.18 L597.20,324.32 L597.30,324.43 L597.40,324.49 L597.50,324.52 L597.60,324.57 L597.70,324.64 L597.80,324.72 L597.90,324.77 L598.00,324.79 L598.10,324.85 L598.20,324.92 L598.30,324.96 L598.40,324.94 L598.50,324.94 L598.60,324.97 L598.70,324.97 L598.80,325.02 L598.90,325.08 L599.00,325.10 L599.10,325.05 L599.20,325.09 L599.30,325.16 L599.40,325.14 L599.50,325.12 L599.60,325.13 L599.70,324.97 L599.80,324.69 L599.90,324.32 L600.00,323.86 L600.10,323.31 L600.20,322.66 L600.30,322.03 L600.40,321.49 L600.50,321.12 L600.60,320.96 L600.70,321.15 L600.80,321.50 L600.90,322.07 L601.00,322.72 L601.10,323.36 L601.20,323.96 L601.30,324.45 L601.40,324.79 L601.50,325.05 L601.60,325.21 L601.70,325.30 L601.80,325.39 L601.90,325.38 L602.00,325.40 L602.10,325.42 L602.20,325.45 L602.30,325.46 L602.40,325.49 L602.50,325.47 L602.60,325.47 L602.70,325.44 L602.80,325.42 L602.90,325.33 L603.00,325.23 L603.10,325.08 L603.20,324.95 L603.30,324.81 L603.40,324.62 L603.50,324.41 L603.60,324.19 L603.70,324.00 L603.80,323.86 L603.90,323.81 L604.00,323.78 L604.10,323.77 L604.20,323.79 L604.30,323.94 L604.40,324.15 L604.50,324.33 L604.60,324.48 L604.70,324.66 L604.80,324.78 L604.90,324.97 L605.00,325.04 L605.10,325.11 L605.20,325.12 L605.30,325.11 L605.40,325.13 L605.50,325.20 L605.60,325.22 L605.70,325.19 L605.80,325.14 L605.90,325.16 L606.00,325.16 L606.10,325.21 L606.20,325.22 L606.30,325.24 L606.40,325.25 L606.50,325.24 L606.60,325.24 L606.70,325.30 L606.80,325.35 L606.90,325.36 L607.00,325.35 L607.10,325.40 L607.20,325.39 L607.30,325.35 L607.40,325.31 L607.50,325.37 L607.60,325.36 L607.70,325.32 L607.80,325.33 L607.90,325.33 L608.00,325.28 L608.10,325.32 L608.20,325.35 L608.30,325.37 L608.40,325.29 L608.50,325.27 L608.60,325.26 L608.70,325.29 L608.80,325.30 L608.90,325.33 L609.00,325.26 L609.10,325.22 L609.20,325.23 L609.30,325.25 L609.40,325.28 L609.50,325.29 L609.60,325.28 L609.70,325.30 L609.80,325.27 L609.90,325.30 L610.00,325.30 L610.10,325.34 L610.20,325.32 L610.30,325.32 L610.40,325.34 L610.50,325.36 L610.60,325.28 L610.70,325.28 L610.80,325.30 L610.90,325.29 L611.00,325.27 L611.10,325.31 L611.20,325.32 L611.30,325.30 L611.40,325.30 L611.50,325.32 L611.60,325.36 L611.70,325.34 L611.80,325.40 L611.90,325.37 L612.00,325.40 L612.10,325.34 L612.20,325.33 L612.30,325.31 L612.40,325.29 L612.50,325.29 L612.60,325.27 L612.70,325.21 L612.80,325.18 L612.90,325.10 L613.00,325.07 L613.10,325.02 L613.20,324.92 L613.30,324.85 L613.40,324.67 L613.50,324.55 L613.60,324.43 L613.70,324.38 L613.80,324.32 L613.90,324.28 L614.00,324.20 L614.10,324.22 L614.20,324.29 L614.30,324.39 L614.40,324.53 L614.50,324.66 L614.60,324.71 L614.70,324.85 L614.80,324.97 L614.90,325.07 L615.00,325.16 L615.10,325.18 L615.20,325.22 L615.30,325.25 L615.40,325.25 L615.50,325.28 L615.60,325.24 L615.70,325.23 L615.80,325.24 L615.90,325.21 L616.00,325.24 L616.10,325.24 L616.20,325.27 L616.30,325.29 L616.40,325.32 L616.50,325.32 L616.60,325.33 L616.70,325.32 L616.80,325.31 L616.90,325.26 L617.00,325.29 L617.10,325.27 L617.20,325.24 L617.30,325.22 L617.40,325.26 L617.50,325.24 L617.60,325.24 L617.70,325.24 L617.80,325.25 L617.90,325.21 L618.00,325.18 L618.10,325.17 L618.20,325.21 L618.30,325.18 L618.40,325.17 L618.50,325.22 L618.60,325.26 L618.70,325.32 L618.80,325.34 L618.90,325.33 L619.00,325.36 L619.10,325.29 L619.20,325.28 L619.30,325.30 L619.40,325.33 L619.50,325.33 L619.60,325.31 L619.70,325.33 L619.80,325.31 L619.90,325.30 L620.00,325.33 L620.10,325.35 L620.20,325.30 L620.30,325.25 L620.40,325.23 L620.50,325.24 L620.60,325.26 L620.70,325.30 L620.80,325.29 L620.90,325.32 L621.00,325.34 L621.10,325.38 L621.20,325.38 L621.30,325.38 L621.40,325.32 L621.50,325.32 L621.60,325.35 L621.70,325.37 L621.80,325.37 L621.90,325.36 L622.00,325.34 L622.10,325.38 L622.20,325.39 L622.30,325.40 L622.40,325.34 L622.50,325.27 L622.60,325.24 L622.70,325.15 L622.80,324.92 L622.90,324.62 L623.00,323.99 L623.10,323.15 L623.20,322.15 L623.30,321.23 L623.40,320.48 L623.50,320.23 L623.60,320.50 L623.70,321.26 L623.80,322.22 L623.90,323.21 L624.00,324.07 L624.10,324.72 L624.20,325.06 L624.30,325.29 L624.40,325.31 L624.50,325.37 L624.60,325.36 L624.70,325.40 L624.80,325.40 L624.90,325.37 L625.00,325.36 L625.10,325.31 L625.20,325.30 L625.30,325.30 L625.40,325.23 L625.50,325.23 L625.60,325.23 L625.70,325.29 L625.80,325.29 L625.90,325.25 L626.00,325.29 L626.10,325.31 L626.20,325.33 L626.30,325.38 L626.40,325.43 L626.50,325.35 L626.60,325.29 L626.70,325.27 L626.80,325.26 L626.90,325.24 L627.00,325.22 L627.10,325.18 L627.20,325.13 L627.30,324.98 L627.40,324.79 L627.50,324.35 L627.60,323.59 L627.70,322.42 L627.80,320.89 L627.90,319.09 L628.00,317.46 L628.10,316.23 L628.20,315.79 L628.30,316.23 L628.40,317.49 L628.50,319.19 L628.60,320.86 L628.70,322.17 L628.80,323.20 L628.90,323.91 L629.00,324.38 L629.10,324.69 L629.20,324.86 L629.30,324.96 L629.40,325.04 L629.50,325.11 L629.60,325.14 L629.70,324.98 L629.80,324.67 L629.90,324.31 L630.00,323.83 L630.10,323.31 L630.20,322.85 L630.30,322.45 L630.40,322.15 L630.50,322.06 L630.60,322.18 L630.70,322.45 L630.80,322.85 L630.90,323.32 L631.00,323.81 L631.10,324.23 L631.20,324.56 L631.30,324.80 L631.40,324.94 L631.50,325.05 L631.60,325.14 L631.70,325.15 L631.80,325.19 L631.90,325.22 L632.00,325.20 L632.10,325.17 L632.20,325.21 L632.30,325.28 L632.40,325.28 L632.50,325.31 L632.60,325.33 L632.70,325.37 L632.80,325.35 L632.90,325.39 L633.00,325.43 L633.10,325.43 L633.20,325.36 L633.30,325.37 L633.40,325.31 L633.50,325.32 L633.60,325.34 L633.70,325.32 L633.80,325.28 L633.90,325.26 L634.00,325.21 L634.10,325.21 L634.20,325.21 L634.30,325.27 L634.40,325.26 L634.50,325.21 L634.60,325.26 L634.70,325.24 L634.80,325.22 L634.90,325.27 L635.00,325.29 L635.10,325.25 L635.20,325.26 L635.30,325.31 L635.40,325.32 L635.50,325.29 L635.60,325.31 L635.70,325.38 L635.80,325.38 L635.90,325.37 L636.00,325.40 L636.10,325.35 L636.20,325.31 L636.30,325.29 L636.40,325.34 L636.50,325.40 L636.60,325.34 L636.70,325.32 L636.80,325.32 L636.90,325.32 L637.00,325.30 L637.10,325.27 L637.20,325.31 L637.30,325.27 L637.40,325.26 L637.50,325.31 L637.60,325.32 L637.70,325.32 L637.80,325.30 L637.90,325.37 L638.00,325.40 L638.10,325.35 L638.20,325.34 L638.30,325.29 L638.40,325.28 L638.50,325.24 L638.60,325.24 L638.70,325.21 L638.80,325.18 L638.90,325.21 L639.00,325.23 L639.10,325.27 L639.20,325.32 L639.30,325.31 L639.40,325.31 L639.50,325.32 L639.60,325.37 L639.70,325.37 L639.80,325.33 L639.90,325.35 L640.00,325.31 L640.10,325.32 L640.20,325.30 L640.30,325.33 L640.40,325.35 L640.50,325.28 L640.60,325.27 L640.70,325.27 L640.80,325.24 L640.90,325.30 L641.00,325.23 L641.10,325.21 L641.20,325.23 L641.30,325.21 L641.40,325.23 L641.50,325.22 L641.60,325.22 L641.70,325.27 L641.80,325.28 L641.90,325.28 L642.00,325.29 L642.10,325.29 L642.20,325.30 L642.30,325.35 L642.40,325.35 L642.50,325.35 L642.60,325.32 L642.70,325.30 L642.80,325.32 L642.90,325.34 L643.00,325.34 L643.10,325.35 L643.20,325.32 L643.30,325.34 L643.40,325.38 L643.50,325.38 L643.60,325.41 L643.70,325.39 L643.80,325.40 L643.90,325.35 L644.00,325.36 L644.10,325.34 L644.20,325.30 L644.30,325.31 L644.40,325.33 L644.50,325.32 L644.60,325.33 L644.70,325.30 L644.80,325.31 L644.90,325.30 L645.00,325.33 L645.10,325.29 L645.20,325.28 L645.30,325.27 L645.40,325.26 L645.50,325.31 L645.60,325.28 L645.70,325.28 L645.80,325.23 L645.90,325.23 L646.00,325.26 L646.10,325.25 L646.20,325.21 L646.30,325.23 L646.40,325.17 L646.50,325.23 L646.60,325.26 L646.70,325.30 L646.80,325.33 L646.90,325.31 L647.00,325.29 L647.10,325.29 L647.20,325.23 L647.30,325.25 L647.40,325.23 L647.50,325.22 L647.60,325.20 L647.70,325.18 L647.80,325.17 L647.90,325.23 L648.00,325.21 L648.10,325.23 L648.20,325.22 L648.30,325.23 L648.40,325.25 L648.50,325.29 L648.60,325.25 L648.70,325.27 L648.80,325.24 L648.90,325.24 L649.00,325.30 L649.10,325.29 L649.20,325.27 L649.30,325.27 L649.40,325.28 L649.50,325.29 L649.60,325.29 L649.70,325.32 L649.80,325.31 L649.90,325.25 L650.00,325.32 L650.10,325.29 L650.20,325.26 L650.30,325.21 L650.40,325.23 L650.50,325.20 L650.60,325.14 L650.70,325.22 L650.80,325.26 L650.90,325.25 L651.00,325.26 L651.10,325.24 L651.20,325.27 L651.30,325.25 L651.40,325.28 L651.50,325.35 L651.60,325.30 L651.70,325.27 L651.80,325.29 L651.90,325.32 L652.00,325.30 L652.10,325.30 L652.20,325.32 L652.30,325.33 L652.40,325.28" fill="none" stroke="#262626" stroke-width="0.9" stroke-linejoin="round"/>
<circle cx="561.2" cy="220.8" r="2.7" fill="#0a6fcc"/>
<circle cx="594.6" cy="245.7" r="2.7" fill="#e6574a"/>
<circle cx="610.5" cy="297.4" r="2.7" fill="#9e8c7c"/>
<circle cx="639.2" cy="286.4" r="2.7" fill="#e6574a"/>
<text x="547.39" y="234.10" font-size="9" fill="#222" textLength="25.8" lengthAdjust="spacingAndGlyphs">14306</text>
<text x="581.02" y="258.80" font-size="9" fill="#222" textLength="24.33" lengthAdjust="spacingAndGlyphs">15110</text>
<text x="596.61" y="311.10" font-size="9" fill="#222" textLength="25.21" lengthAdjust="spacingAndGlyphs">15799</text>
<text x="625.84" y="297.80" font-size="9" fill="#222" textLength="24.21" lengthAdjust="spacingAndGlyphs">15914</text>
<line x1="610.20" y1="312.20" x2="623.80" y2="320.20" stroke="#b6c2e4" stroke-width="0.6" />
<line x1="639.10" y1="300.10" x2="628.60" y2="315.00" stroke="#b6c2e4" stroke-width="0.6" />
<text x="570.91" y="344.40" font-size="7.8" fill="#222" textLength="39.02" lengthAdjust="spacingAndGlyphs">Mass (Da)</text>
<circle cx="630.2" cy="219.9" r="2.75" fill="#0a6fcc"/>
<circle cx="630.2" cy="233.6" r="2.75" fill="#9e8c7c"/>
<circle cx="630.2" cy="247.2" r="2.75" fill="#e6574a"/>
<text x="639.90" y="222.70" font-size="9.0" fill="#1a1a1a" textLength="16.69" lengthAdjust="spacingAndGlyphs">HEL</text>
<text x="640.10" y="235.90" font-size="8.4" fill="#1a1a1a" font-weight="bold" stroke="#1a1a1a" stroke-width="0.28" textLength="13.55" lengthAdjust="spacingAndGlyphs">P6a</text>
<text x="640.06" y="249.60" font-size="8.4" fill="#1a1a1a" font-weight="bold" stroke="#1a1a1a" stroke-width="0.28" textLength="14.87" lengthAdjust="spacingAndGlyphs">P6b</text>
<text x="-0.79" y="386.70" font-size="16.5" fill="#0d0d0d" font-weight="bold" textLength="5.77" lengthAdjust="spacingAndGlyphs">f</text>
<rect x="78.30" y="397.10" width="14.4" height="58.80" fill="#d3d3d3"/>
<rect x="78.30" y="455.90" width="14.4" height="37.90" fill="#c5009b"/>
<rect x="78.30" y="397.10" width="14.4" height="96.70" fill="none" stroke="#a3a3a3" stroke-width="0.6"/>
<line x1="78.30" y1="455.90" x2="92.70" y2="455.90" stroke="#b04030" stroke-width="0.5" />
<rect x="78.30" y="499.00" width="14.4" height="25.70" fill="#c5009b"/>
<rect x="78.30" y="499.00" width="14.4" height="25.70" fill="none" stroke="#a3a3a3" stroke-width="0.6"/>
<rect x="99.45" y="397.10" width="14.4" height="96.70" fill="#d3d3d3"/>
<rect x="99.45" y="397.10" width="14.4" height="96.70" fill="none" stroke="#a3a3a3" stroke-width="0.6"/>
<rect x="99.45" y="499.00" width="14.4" height="7.09" fill="#d3d3d3"/>
<rect x="99.45" y="506.09" width="14.4" height="2.81" fill="#c5009b"/>
<rect x="99.45" y="508.89" width="14.4" height="15.81" fill="#e35c4a"/>
<rect x="99.45" y="499.00" width="14.4" height="25.70" fill="none" stroke="#a3a3a3" stroke-width="0.6"/>
<line x1="99.45" y1="506.09" x2="113.85" y2="506.09" stroke="#b04030" stroke-width="0.5" />
<line x1="99.45" y1="508.89" x2="113.85" y2="508.89" stroke="#b04030" stroke-width="0.5" />
<rect x="120.60" y="397.10" width="14.4" height="88.20" fill="#d3d3d3"/>
<rect x="120.60" y="485.30" width="14.4" height="8.50" fill="#e35c4a"/>
<rect x="120.60" y="397.10" width="14.4" height="96.70" fill="none" stroke="#a3a3a3" stroke-width="0.6"/>
<line x1="120.60" y1="485.30" x2="135.00" y2="485.30" stroke="#b04030" stroke-width="0.5" />
<rect x="120.60" y="499.00" width="14.4" height="25.70" fill="#e35c4a"/>
<rect x="120.60" y="499.00" width="14.4" height="25.70" fill="none" stroke="#a3a3a3" stroke-width="0.6"/>
<rect x="141.75" y="397.10" width="14.4" height="12.54" fill="#d3d3d3"/>
<rect x="141.75" y="409.64" width="14.4" height="84.16" fill="#e35c4a"/>
<rect x="141.75" y="397.10" width="14.4" height="96.70" fill="none" stroke="#a3a3a3" stroke-width="0.6"/>
<line x1="141.75" y1="409.64" x2="156.15" y2="409.64" stroke="#b04030" stroke-width="0.5" />
<rect x="141.75" y="499.00" width="14.4" height="25.70" fill="#e35c4a"/>
<rect x="141.75" y="499.00" width="14.4" height="25.70" fill="none" stroke="#a3a3a3" stroke-width="0.6"/>
<rect x="162.90" y="397.10" width="14.4" height="10.78" fill="#d3d3d3"/>
<rect x="162.90" y="407.88" width="14.4" height="85.92" fill="#e35c4a"/>
<rect x="162.90" y="397.10" width="14.4" height="96.70" fill="none" stroke="#a3a3a3" stroke-width="0.6"/>
<line x1="162.90" y1="407.88" x2="177.30" y2="407.88" stroke="#b04030" stroke-width="0.5" />
<rect x="162.90" y="499.00" width="14.4" height="25.70" fill="#e35c4a"/>
<rect x="162.90" y="499.00" width="14.4" height="25.70" fill="none" stroke="#a3a3a3" stroke-width="0.6"/>
<rect x="184.05" y="397.10" width="14.4" height="8.82" fill="#d3d3d3"/>
<rect x="184.05" y="405.92" width="14.4" height="87.88" fill="#e35c4a"/>
<rect x="184.05" y="397.10" width="14.4" height="96.70" fill="none" stroke="#a3a3a3" stroke-width="0.6"/>
<line x1="184.05" y1="405.92" x2="198.45" y2="405.92" stroke="#b04030" stroke-width="0.5" />
<rect x="184.05" y="499.00" width="14.4" height="25.70" fill="#e35c4a"/>
<rect x="184.05" y="499.00" width="14.4" height="25.70" fill="none" stroke="#a3a3a3" stroke-width="0.6"/>
<line x1="71.20" y1="386.40" x2="71.20" y2="493.80" stroke="#1e1e1e" stroke-width="1.3" />
<line x1="71.20" y1="499.00" x2="71.20" y2="525.30" stroke="#1e1e1e" stroke-width="1.3" />
<line x1="69.00" y1="493.80" x2="73.40" y2="493.80" stroke="#1e1e1e" stroke-width="1.0" />
<line x1="69.00" y1="499.00" x2="73.40" y2="499.00" stroke="#1e1e1e" stroke-width="1.0" />
<line x1="66.00" y1="397.10" x2="71.20" y2="397.10" stroke="#1e1e1e" stroke-width="1.1" />
<text x="49.11" y="400.20" font-size="10.3" fill="#1a1a1a" textLength="17.19" lengthAdjust="spacingAndGlyphs">100</text>
<line x1="66.00" y1="416.70" x2="71.20" y2="416.70" stroke="#1e1e1e" stroke-width="1.1" />
<text x="54.84" y="419.80" font-size="10.3" fill="#1a1a1a" textLength="11.46" lengthAdjust="spacingAndGlyphs">80</text>
<line x1="66.00" y1="436.30" x2="71.20" y2="436.30" stroke="#1e1e1e" stroke-width="1.1" />
<text x="54.84" y="439.40" font-size="10.3" fill="#1a1a1a" textLength="11.46" lengthAdjust="spacingAndGlyphs">60</text>
<line x1="66.00" y1="455.90" x2="71.20" y2="455.90" stroke="#1e1e1e" stroke-width="1.1" />
<text x="54.84" y="459.00" font-size="10.3" fill="#1a1a1a" textLength="11.46" lengthAdjust="spacingAndGlyphs">40</text>
<line x1="66.00" y1="475.50" x2="71.20" y2="475.50" stroke="#1e1e1e" stroke-width="1.1" />
<text x="54.84" y="478.60" font-size="10.3" fill="#1a1a1a" textLength="11.46" lengthAdjust="spacingAndGlyphs">20</text>
<line x1="68.60" y1="387.30" x2="71.20" y2="387.30" stroke="#1e1e1e" stroke-width="1.1" />
<line x1="68.60" y1="406.90" x2="71.20" y2="406.90" stroke="#1e1e1e" stroke-width="1.1" />
<line x1="68.60" y1="426.50" x2="71.20" y2="426.50" stroke="#1e1e1e" stroke-width="1.1" />
<line x1="68.60" y1="446.10" x2="71.20" y2="446.10" stroke="#1e1e1e" stroke-width="1.1" />
<line x1="68.60" y1="465.70" x2="71.20" y2="465.70" stroke="#1e1e1e" stroke-width="1.1" />
<line x1="68.60" y1="485.30" x2="71.20" y2="485.30" stroke="#1e1e1e" stroke-width="1.1" />
<line x1="66.00" y1="504.30" x2="71.20" y2="504.30" stroke="#1e1e1e" stroke-width="1.1" />
<text x="51.93" y="507.40" font-size="10.0" fill="#1a1a1a" textLength="13.9" lengthAdjust="spacingAndGlyphs">0.8</text>
<line x1="66.00" y1="524.70" x2="71.20" y2="524.70" stroke="#1e1e1e" stroke-width="1.1" />
<text x="51.88" y="527.80" font-size="10.0" fill="#1a1a1a" textLength="13.9" lengthAdjust="spacingAndGlyphs">0.0</text>
<line x1="68.60" y1="514.50" x2="71.20" y2="514.50" stroke="#1e1e1e" stroke-width="1.1" />
<line x1="70.60" y1="524.70" x2="207.00" y2="524.70" stroke="#1e1e1e" stroke-width="1.3" />
<line x1="85.50" y1="524.70" x2="85.50" y2="529.00" stroke="#1e1e1e" stroke-width="1.1" />
<text x="85.50" y="539.80" font-size="10.2" fill="#111" font-weight="bold" stroke="#111" stroke-width="0.28" text-anchor="middle">1</text>
<line x1="106.65" y1="524.70" x2="106.65" y2="529.00" stroke="#1e1e1e" stroke-width="1.1" />
<text x="106.65" y="539.80" font-size="10.2" fill="#111" font-weight="bold" stroke="#111" stroke-width="0.28" text-anchor="middle">2</text>
<line x1="127.80" y1="524.70" x2="127.80" y2="529.00" stroke="#1e1e1e" stroke-width="1.1" />
<text x="127.80" y="539.80" font-size="10.2" fill="#111" font-weight="bold" stroke="#111" stroke-width="0.28" text-anchor="middle">3</text>
<line x1="148.95" y1="524.70" x2="148.95" y2="529.00" stroke="#1e1e1e" stroke-width="1.1" />
<text x="148.95" y="539.80" font-size="10.2" fill="#111" font-weight="bold" stroke="#111" stroke-width="0.28" text-anchor="middle">4</text>
<line x1="170.10" y1="524.70" x2="170.10" y2="529.00" stroke="#1e1e1e" stroke-width="1.1" />
<text x="170.10" y="539.80" font-size="10.2" fill="#111" font-weight="bold" stroke="#111" stroke-width="0.28" text-anchor="middle">5</text>
<line x1="191.25" y1="524.70" x2="191.25" y2="529.00" stroke="#1e1e1e" stroke-width="1.1" />
<text x="191.25" y="539.80" font-size="10.2" fill="#111" font-weight="bold" stroke="#111" stroke-width="0.28" text-anchor="middle">6</text>
<text transform="translate(41.8,452.9) rotate(-90)" font-size="11.4" text-anchor="middle" textLength="122.9" lengthAdjust="spacingAndGlyphs" fill="#1a1a1a">Relative abundance (%)</text>
<rect x="223.6" y="410.6" width="10" height="9" fill="#d3d3d3" stroke="#a3a3a3" stroke-width="0.6"/>
<rect x="223.6" y="460.2" width="10" height="9.2" fill="#e35c4a" stroke="#c04a3a" stroke-width="0.6"/>
<rect x="223.6" y="507.9" width="10" height="9" fill="#c5009b" stroke="#a00080" stroke-width="0.6"/>
<text x="239.30" y="406.10" font-size="11.0" fill="#1a1a1a" textLength="32.1" lengthAdjust="spacingAndGlyphs"><tspan font-style="italic">N</tspan>-acyl</text>
<text x="239.30" y="418.40" font-size="11.0" fill="#1a1a1a" textLength="53.1" lengthAdjust="spacingAndGlyphs">derivatives</text>
<text x="239.30" y="430.60" font-size="11.0" fill="#1a1a1a" textLength="43.7" lengthAdjust="spacingAndGlyphs">(<tspan font-weight="bold">P1a-6a</tspan>)</text>
<text x="239.30" y="455.60" font-size="11.0" fill="#1a1a1a" textLength="74.5" lengthAdjust="spacingAndGlyphs"><tspan font-style="italic">N</tspan>-succinamide</text>
<text x="239.30" y="468.30" font-size="11.0" fill="#1a1a1a" textLength="53.1" lengthAdjust="spacingAndGlyphs">derivatives</text>
<text x="239.30" y="481.20" font-size="11.0" fill="#1a1a1a" textLength="45.5" lengthAdjust="spacingAndGlyphs">(<tspan font-weight="bold">P2b-6b</tspan>)</text>
<text x="239.30" y="509.10" font-size="11.0" fill="#1a1a1a" textLength="58.0" lengthAdjust="spacingAndGlyphs">acetamides</text>
<text x="239.30" y="522.10" font-size="11.0" fill="#1a1a1a" textLength="43.0" lengthAdjust="spacingAndGlyphs">(<tspan font-weight="bold">P1c-2c</tspan>)</text>
<text x="334.79" y="386.60" font-size="16.5" fill="#0d0d0d" font-weight="bold" textLength="10.58" lengthAdjust="spacingAndGlyphs">g</text>
<path d="M430.70,387.60 L441.60,381.80 L451.80,387.60 L461.30,381.80 L471.20,387.20 L481.40,382.50" fill="none" stroke="#f6e3d4" stroke-width="10.5" stroke-linejoin="round" stroke-linecap="round"/>
<path d="M430.70,387.60 L431.00,399.70" fill="none" stroke="#f6e3d4" stroke-width="10.5" stroke-linejoin="round" stroke-linecap="round"/>
<path d="M461.30,381.80 L461.00,370.80" fill="none" stroke="#f6e3d4" stroke-width="10.5" stroke-linejoin="round" stroke-linecap="round"/>
<path d="M471.20,387.20 L471.20,396.00" fill="none" stroke="#f6e3d4" stroke-width="10.5" stroke-linejoin="round" stroke-linecap="round"/>
<path d="M405.80,384.70 L405.62,385.12 L405.50,385.51 L405.51,385.84 L405.66,386.10 L405.96,386.30 L406.35,386.45 L406.80,386.58 L407.22,386.71 L407.55,386.89 L407.76,387.13 L407.81,387.44 L407.73,387.81 L407.56,388.23 L407.37,388.65 L407.23,389.05 L407.19,389.40 L407.30,389.69 L407.54,389.91 L407.91,390.07 L408.35,390.20 L408.79,390.33 L409.16,390.49 L409.40,390.71 L409.51,391.00 L409.47,391.35 L409.33,391.75 L409.14,392.17 L408.97,392.59 L408.89,392.96 L408.94,393.27 L409.15,393.51 L409.48,393.69 L409.90,393.82 L410.35,393.95 L410.74,394.10 L411.04,394.30 L411.19,394.56 L411.20,394.89 L411.08,395.28 L410.90,395.70" fill="none" stroke="#151515" stroke-width="0.9"/>
<line x1="408.30" y1="390.00" x2="417.68" y2="384.60" stroke="#151515" stroke-width="1.05" stroke-linecap="round"/>
<line x1="424.04" y1="384.37" x2="430.70" y2="387.60" stroke="#151515" stroke-width="1.05" stroke-linecap="round"/>
<line x1="431.75" y1="387.57" x2="431.96" y2="396.08" stroke="#151515" stroke-width="1.05" stroke-linecap="round"/>
<line x1="429.65" y1="387.63" x2="429.86" y2="396.13" stroke="#151515" stroke-width="1.05" stroke-linecap="round"/>
<line x1="430.70" y1="387.60" x2="441.60" y2="381.80" stroke="#151515" stroke-width="1.05" stroke-linecap="round"/>
<line x1="441.60" y1="381.80" x2="451.80" y2="387.60" stroke="#151515" stroke-width="1.05" stroke-linecap="round"/>
<line x1="451.80" y1="387.60" x2="461.30" y2="381.80" stroke="#151515" stroke-width="1.05" stroke-linecap="round"/>
<line x1="460.25" y1="381.83" x2="460.05" y2="374.43" stroke="#151515" stroke-width="1.05" stroke-linecap="round"/>
<line x1="462.35" y1="381.77" x2="462.15" y2="374.37" stroke="#151515" stroke-width="1.05" stroke-linecap="round"/>
<line x1="461.30" y1="381.80" x2="468.04" y2="385.48" stroke="#151515" stroke-width="1.05" stroke-linecap="round"/>
<line x1="474.47" y1="385.69" x2="478.31" y2="383.92" stroke="#151515" stroke-width="1.05" stroke-linecap="round"/>
<line x1="484.63" y1="384.08" x2="491.40" y2="387.40" stroke="#151515" stroke-width="1.05" stroke-linecap="round"/>
<line x1="492.45" y1="387.38" x2="492.59" y2="396.08" stroke="#151515" stroke-width="1.05" stroke-linecap="round"/>
<line x1="490.35" y1="387.42" x2="490.49" y2="396.12" stroke="#151515" stroke-width="1.05" stroke-linecap="round"/>
<line x1="491.40" y1="387.40" x2="501.90" y2="381.90" stroke="#151515" stroke-width="1.05" stroke-linecap="round"/>
<line x1="501.90" y1="381.90" x2="508.40" y2="385.39" stroke="#151515" stroke-width="1.05" stroke-linecap="round"/>
<line x1="514.43" y1="385.45" x2="521.84" y2="381.65" stroke="#151515" stroke-width="1.05" stroke-linecap="round"/>
<text x="420.80" y="386.04" font-size="9.0" fill="#151515" text-anchor="middle" stroke="#151515" stroke-width="0.15">N</text>
<text x="420.80" y="376.94" font-size="9.0" fill="#151515" text-anchor="middle" stroke="#151515" stroke-width="0.15">H</text>
<text x="431.00" y="402.94" font-size="9.0" fill="#151515" text-anchor="middle" stroke="#151515" stroke-width="0.15">O</text>
<text x="461.00" y="374.04" font-size="9.0" fill="#151515" text-anchor="middle" stroke="#151515" stroke-width="0.15">O</text>
<text x="471.20" y="390.44" font-size="9.0" fill="#151515" text-anchor="middle" stroke="#151515" stroke-width="0.15">N</text>
<text x="471.20" y="399.24" font-size="9.0" fill="#151515" text-anchor="middle" stroke="#151515" stroke-width="0.15">H</text>
<text x="481.40" y="385.74" font-size="9.0" fill="#151515" text-anchor="middle" stroke="#151515" stroke-width="0.15">O</text>
<text x="491.60" y="402.94" font-size="9.0" fill="#151515" text-anchor="middle" stroke="#151515" stroke-width="0.15">O</text>
<text x="511.40" y="390.24" font-size="9.0" fill="#151515" text-anchor="middle" stroke="#151515" stroke-width="0.15">S</text>
<circle cx="527.0" cy="379.0" r="5.8" fill="#1787bf" stroke="#333" stroke-width="0.6"/>
<path d="M492.60,376.20 L491.93,376.48 L491.36,376.80 L490.96,377.20 L490.79,377.69 L490.82,378.28 L491.00,378.94 L491.25,379.63 L491.47,380.30 L491.56,380.92 L491.45,381.45 L491.13,381.88 L490.61,382.22 L489.96,382.51 L489.28,382.78 L488.67,383.08 L488.21,383.45 L487.95,383.92 L487.92,384.48 L488.06,385.12 L488.30,385.80 L488.54,386.48 L488.68,387.12 L488.65,387.68 L488.39,388.15 L487.93,388.52 L487.32,388.82 L486.64,389.09 L485.99,389.38 L485.47,389.72 L485.15,390.15 L485.04,390.68 L485.13,391.30 L485.35,391.97 L485.60,392.66 L485.78,393.32 L485.81,393.91 L485.64,394.40 L485.24,394.80 L484.67,395.12 L484.00,395.40" fill="none" stroke="#f21b1b" stroke-width="1.2"/>
<text x="551.10" y="389.00" font-size="10.4" fill="#1a1a1a">T</text>
<text x="557.00" y="391.60" font-size="6.2" fill="#1a1a1a" textLength="8.2" lengthAdjust="spacingAndGlyphs">1/2</text>
<text x="565.40" y="389.00" font-size="10.4" fill="#1a1a1a" textLength="53.4" lengthAdjust="spacingAndGlyphs">(<tspan font-weight="bold">P4b</tspan>)=3.4 d</text>
<line x1="368.00" y1="400.40" x2="368.00" y2="524.90" stroke="#4a4a4a" stroke-width="1.3" />
<line x1="367.40" y1="524.30" x2="554.30" y2="524.30" stroke="#4a4a4a" stroke-width="1.3" />
<line x1="362.10" y1="524.30" x2="368.00" y2="524.30" stroke="#4a4a4a" stroke-width="1.1" />
<text x="355.71" y="527.90" font-size="10.6" fill="#1a1a1a" textLength="5.9" lengthAdjust="spacingAndGlyphs">0</text>
<line x1="362.10" y1="498.65" x2="368.00" y2="498.65" stroke="#4a4a4a" stroke-width="1.1" />
<text x="349.82" y="502.25" font-size="10.6" fill="#1a1a1a" textLength="11.79" lengthAdjust="spacingAndGlyphs">10</text>
<line x1="362.10" y1="473.00" x2="368.00" y2="473.00" stroke="#4a4a4a" stroke-width="1.1" />
<text x="349.82" y="476.60" font-size="10.6" fill="#1a1a1a" textLength="11.79" lengthAdjust="spacingAndGlyphs">20</text>
<line x1="362.10" y1="447.35" x2="368.00" y2="447.35" stroke="#4a4a4a" stroke-width="1.1" />
<text x="349.82" y="450.95" font-size="10.6" fill="#1a1a1a" textLength="11.79" lengthAdjust="spacingAndGlyphs">30</text>
<line x1="362.10" y1="421.70" x2="368.00" y2="421.70" stroke="#4a4a4a" stroke-width="1.1" />
<text x="349.82" y="425.30" font-size="10.6" fill="#1a1a1a" textLength="11.79" lengthAdjust="spacingAndGlyphs">40</text>
<line x1="364.50" y1="511.47" x2="368.00" y2="511.47" stroke="#4a4a4a" stroke-width="1.1" />
<line x1="364.50" y1="485.82" x2="368.00" y2="485.82" stroke="#4a4a4a" stroke-width="1.1" />
<line x1="364.50" y1="460.17" x2="368.00" y2="460.17" stroke="#4a4a4a" stroke-width="1.1" />
<line x1="364.50" y1="434.52" x2="368.00" y2="434.52" stroke="#4a4a4a" stroke-width="1.1" />
<line x1="364.50" y1="408.87" x2="368.00" y2="408.87" stroke="#4a4a4a" stroke-width="1.1" />
<line x1="367.80" y1="524.30" x2="367.80" y2="528.40" stroke="#4a4a4a" stroke-width="0.9" />
<line x1="375.26" y1="524.30" x2="375.26" y2="527.00" stroke="#4a4a4a" stroke-width="0.9" />
<line x1="382.72" y1="524.30" x2="382.72" y2="527.00" stroke="#4a4a4a" stroke-width="0.9" />
<line x1="390.18" y1="524.30" x2="390.18" y2="527.00" stroke="#4a4a4a" stroke-width="0.9" />
<line x1="397.64" y1="524.30" x2="397.64" y2="527.00" stroke="#4a4a4a" stroke-width="0.9" />
<line x1="405.10" y1="524.30" x2="405.10" y2="528.40" stroke="#4a4a4a" stroke-width="0.9" />
<line x1="412.56" y1="524.30" x2="412.56" y2="527.00" stroke="#4a4a4a" stroke-width="0.9" />
<line x1="420.02" y1="524.30" x2="420.02" y2="527.00" stroke="#4a4a4a" stroke-width="0.9" />
<line x1="427.48" y1="524.30" x2="427.48" y2="527.00" stroke="#4a4a4a" stroke-width="0.9" />
<line x1="434.94" y1="524.30" x2="434.94" y2="527.00" stroke="#4a4a4a" stroke-width="0.9" />
<line x1="442.40" y1="524.30" x2="442.40" y2="528.40" stroke="#4a4a4a" stroke-width="0.9" />
<line x1="449.86" y1="524.30" x2="449.86" y2="527.00" stroke="#4a4a4a" stroke-width="0.9" />
<line x1="457.32" y1="524.30" x2="457.32" y2="527.00" stroke="#4a4a4a" stroke-width="0.9" />
<line x1="464.78" y1="524.30" x2="464.78" y2="527.00" stroke="#4a4a4a" stroke-width="0.9" />
<line x1="472.24" y1="524.30" x2="472.24" y2="527.00" stroke="#4a4a4a" stroke-width="0.9" />
<line x1="479.70" y1="524.30" x2="479.70" y2="528.40" stroke="#4a4a4a" stroke-width="0.9" />
<line x1="487.16" y1="524.30" x2="487.16" y2="527.00" stroke="#4a4a4a" stroke-width="0.9" />
<line x1="494.62" y1="524.30" x2="494.62" y2="527.00" stroke="#4a4a4a" stroke-width="0.9" />
<line x1="502.08" y1="524.30" x2="502.08" y2="527.00" stroke="#4a4a4a" stroke-width="0.9" />
<line x1="509.54" y1="524.30" x2="509.54" y2="527.00" stroke="#4a4a4a" stroke-width="0.9" />
<line x1="517.00" y1="524.30" x2="517.00" y2="528.40" stroke="#4a4a4a" stroke-width="0.9" />
<line x1="524.46" y1="524.30" x2="524.46" y2="527.00" stroke="#4a4a4a" stroke-width="0.9" />
<line x1="531.92" y1="524.30" x2="531.92" y2="527.00" stroke="#4a4a4a" stroke-width="0.9" />
<line x1="539.38" y1="524.30" x2="539.38" y2="527.00" stroke="#4a4a4a" stroke-width="0.9" />
<line x1="546.84" y1="524.30" x2="546.84" y2="527.00" stroke="#4a4a4a" stroke-width="0.9" />
<line x1="554.30" y1="524.30" x2="554.30" y2="528.40" stroke="#4a4a4a" stroke-width="0.9" />
<text x="365.05" y="540.90" font-size="10.6" fill="#1a1a1a" textLength="5.9" lengthAdjust="spacingAndGlyphs">0</text>
<text x="402.36" y="540.90" font-size="10.6" fill="#1a1a1a" textLength="5.9" lengthAdjust="spacingAndGlyphs">5</text>
<text x="436.50" y="540.90" font-size="10.6" fill="#1a1a1a" textLength="11.79" lengthAdjust="spacingAndGlyphs">10</text>
<text x="473.82" y="540.90" font-size="10.6" fill="#1a1a1a" textLength="11.79" lengthAdjust="spacingAndGlyphs">15</text>
<text x="511.24" y="540.90" font-size="10.6" fill="#1a1a1a" textLength="11.79" lengthAdjust="spacingAndGlyphs">20</text>
<text x="548.56" y="540.90" font-size="10.6" fill="#1a1a1a" textLength="11.79" lengthAdjust="spacingAndGlyphs">25</text>
<text transform="translate(344.0,461.3) rotate(-90)" font-size="12" font-weight="bold" text-anchor="middle" textLength="78.6" lengthAdjust="spacingAndGlyphs" fill="#111">Conversion %</text>
<text x="434.50" y="557.80" font-size="11.7" fill="#111" font-weight="bold" stroke="#111" stroke-width="0.28" textLength="54.0" lengthAdjust="spacingAndGlyphs">time / day</text>
<path d="M367.80,428.11 L369.85,431.82 L371.90,435.33 L373.95,438.64 L376.01,441.78 L378.06,444.74 L380.11,447.54 L382.16,450.19 L384.21,452.69 L386.26,455.06 L388.31,457.30 L390.37,459.41 L392.42,461.41 L394.47,463.31 L396.52,465.09 L398.57,466.78 L400.62,468.38 L402.68,469.89 L404.73,471.32 L406.78,472.67 L408.83,473.95 L410.88,475.16 L412.93,476.30 L414.98,477.38 L417.04,478.40 L419.09,479.37 L421.14,480.28 L423.19,481.14 L425.24,481.95 L427.29,482.73 L429.35,483.45 L431.40,484.14 L433.45,484.80 L435.50,485.41 L437.55,485.99 L439.60,486.54 L441.65,487.06 L443.71,487.56 L445.76,488.02 L447.81,488.46 L449.86,488.88 L451.91,489.27 L453.96,489.64 L456.01,489.99 L458.07,490.33 L460.12,490.64 L462.17,490.94 L464.22,491.22 L466.27,491.48 L468.32,491.73 L470.38,491.97 L472.43,492.20 L474.48,492.41 L476.53,492.61 L478.58,492.80 L480.63,492.98 L482.68,493.15 L484.74,493.31 L486.79,493.46 L488.84,493.60 L490.89,493.74 L492.94,493.87 L494.99,493.99 L497.04,494.10 L499.10,494.21 L501.15,494.31 L503.20,494.41 L505.25,494.50 L507.30,494.59 L509.35,494.67 L511.40,494.75 L513.46,494.82 L515.51,494.89 L517.56,494.95 L519.61,495.01 L521.66,495.07 L523.71,495.13 L525.77,495.18 L527.82,495.23 L529.87,495.28 L531.92,495.32" fill="none" stroke="#ea7d6d" stroke-width="0.8"/>
<path d="M367.80,510.19 L369.85,508.66 L371.90,507.17 L373.95,505.70 L376.01,504.27 L378.06,502.86 L380.11,501.49 L382.16,500.14 L384.21,498.82 L386.26,497.53 L388.31,496.26 L390.37,495.02 L392.42,493.81 L394.47,492.62 L396.52,491.45 L398.57,490.31 L400.62,489.20 L402.68,488.10 L404.73,487.03 L406.78,485.98 L408.83,484.96 L410.88,483.95 L412.93,482.96 L414.98,482.00 L417.04,481.05 L419.09,480.13 L421.14,479.22 L423.19,478.34 L425.24,477.47 L427.29,476.62 L429.35,475.78 L431.40,474.97 L433.45,474.17 L435.50,473.38 L437.55,472.62 L439.60,471.87 L441.65,471.13 L443.71,470.41 L445.76,469.71 L447.81,469.02 L449.86,468.34 L451.91,467.68 L453.96,467.03 L456.01,466.39 L458.07,465.77 L460.12,465.16 L462.17,464.57 L464.22,463.98 L466.27,463.41 L468.32,462.85 L470.38,462.30 L472.43,461.76 L474.48,461.24 L476.53,460.72 L478.58,460.22 L480.63,459.72 L482.68,459.24 L484.74,458.76 L486.79,458.30 L488.84,457.85 L490.89,457.40 L492.94,456.96 L494.99,456.54 L497.04,456.12 L499.10,455.71 L501.15,455.31 L503.20,454.92 L505.25,454.53 L507.30,454.15 L509.35,453.79 L511.40,453.42 L513.46,453.07 L515.51,452.72 L517.56,452.39 L519.61,452.05 L521.66,451.73 L523.71,451.41 L525.77,451.10 L527.82,450.79 L529.87,450.49 L531.92,450.20" fill="none" stroke="#ea7d6d" stroke-width="0.8"/>
<line x1="368.00" y1="504.60" x2="531.50" y2="504.60" stroke="#bdbdbd" stroke-width="1.0" />
<polygon points="365.50,498.40 368.20,495.70 370.90,498.40 368.20,501.10" fill="#fff" stroke="#707070" stroke-width="0.7"/>
<polygon points="369.00,497.50 371.70,494.80 374.40,497.50 371.70,500.20" fill="#fff" stroke="#707070" stroke-width="0.7"/>
<polygon points="372.70,501.80 375.40,499.10 378.10,501.80 375.40,504.50" fill="#fff" stroke="#707070" stroke-width="0.7"/>
<polygon points="379.90,504.30 382.60,501.60 385.30,504.30 382.60,507.00" fill="#fff" stroke="#707070" stroke-width="0.7"/>
<polygon points="387.70,505.60 390.40,502.90 393.10,505.60 390.40,508.30" fill="#fff" stroke="#707070" stroke-width="0.7"/>
<polygon points="394.90,505.00 397.60,502.30 400.30,505.00 397.60,507.70" fill="#fff" stroke="#707070" stroke-width="0.7"/>
<polygon points="417.10,508.50 419.80,505.80 422.50,508.50 419.80,511.20" fill="#fff" stroke="#707070" stroke-width="0.7"/>
<polygon points="439.40,502.80 442.10,500.10 444.80,502.80 442.10,505.50" fill="#fff" stroke="#707070" stroke-width="0.7"/>
<polygon points="446.90,500.80 449.60,498.10 452.30,500.80 449.60,503.50" fill="#fff" stroke="#707070" stroke-width="0.7"/>
<polygon points="469.20,506.50 471.90,503.80 474.60,506.50 471.90,509.20" fill="#fff" stroke="#707070" stroke-width="0.7"/>
<polygon points="491.50,505.30 494.20,502.60 496.90,505.30 494.20,508.00" fill="#fff" stroke="#707070" stroke-width="0.7"/>
<polygon points="528.80,502.00 531.50,499.30 534.20,502.00 531.50,504.70" fill="#fff" stroke="#707070" stroke-width="0.7"/>
<circle cx="369.8" cy="511.5" r="2.45" fill="#fff" stroke="#e6574a" stroke-width="0.9"/>
<circle cx="371.4" cy="508.1" r="2.45" fill="#fff" stroke="#e6574a" stroke-width="0.9"/>
<circle cx="375.4" cy="507.2" r="2.45" fill="#fff" stroke="#e6574a" stroke-width="0.9"/>
<circle cx="382.9" cy="507.5" r="2.45" fill="#fff" stroke="#e6574a" stroke-width="0.9"/>
<circle cx="390.4" cy="500" r="2.45" fill="#fff" stroke="#e6574a" stroke-width="0.9"/>
<circle cx="397.6" cy="494.7" r="2.45" fill="#fff" stroke="#e6574a" stroke-width="0.9"/>
<circle cx="419.8" cy="479.9" r="2.45" fill="#fff" stroke="#e6574a" stroke-width="0.9"/>
<circle cx="442.1" cy="463.8" r="2.45" fill="#fff" stroke="#e6574a" stroke-width="0.9"/>
<circle cx="449.6" cy="462.8" r="2.45" fill="#fff" stroke="#e6574a" stroke-width="0.9"/>
<circle cx="471.9" cy="461.8" r="2.45" fill="#fff" stroke="#e6574a" stroke-width="0.9"/>
<circle cx="494.2" cy="454.9" r="2.45" fill="#fff" stroke="#e6574a" stroke-width="0.9"/>
<circle cx="531.5" cy="452.9" r="2.45" fill="#fff" stroke="#e6574a" stroke-width="0.9"/>
<circle cx="368.6" cy="419" r="2.6" fill="#e6574a"/>
<circle cx="369.6" cy="424.4" r="2.6" fill="#e6574a"/>
<circle cx="371.8" cy="438.5" r="2.6" fill="#e6574a"/>
<circle cx="375.4" cy="451.8" r="2.6" fill="#e6574a"/>
<circle cx="382.5" cy="454.4" r="2.6" fill="#e6574a"/>
<circle cx="390.4" cy="465.3" r="2.6" fill="#e6574a"/>
<circle cx="397.7" cy="463.6" r="2.6" fill="#e6574a"/>
<circle cx="420.3" cy="471.5" r="2.6" fill="#e6574a"/>
<circle cx="442.1" cy="479.7" r="2.6" fill="#e6574a"/>
<circle cx="449.6" cy="484.7" r="2.6" fill="#e6574a"/>
<circle cx="472.4" cy="490.4" r="2.6" fill="#e6574a"/>
<circle cx="494.2" cy="498.1" r="2.6" fill="#e6574a"/>
<circle cx="531.5" cy="499.6" r="2.6" fill="#e6574a"/>
<line x1="549.00" y1="419.90" x2="562.40" y2="419.90" stroke="#ea7d6d" stroke-width="0.8" />
<circle cx="555.6" cy="419.9" r="2.1" fill="#e6574a"/>
<line x1="549.00" y1="462.10" x2="562.40" y2="462.10" stroke="#ea7d6d" stroke-width="0.8" />
<circle cx="555.6" cy="462.1" r="2.0" fill="#fff" stroke="#e6574a" stroke-width="0.8"/>
<line x1="549.00" y1="504.20" x2="562.40" y2="504.20" stroke="#aaa" stroke-width="0.8" />
<polygon points="553.4,504.2 555.6,502 557.8,504.2 555.6,506.4" fill="#fff" stroke="#707070" stroke-width="0.7"/>
<text x="569.90" y="417.70" font-size="10.3" fill="#1a1a1a" textLength="68.1" lengthAdjust="spacingAndGlyphs"><tspan font-style="italic">N</tspan>-succinamide</text>
<text x="569.90" y="428.50" font-size="10.3" fill="#1a1a1a" textLength="114.1" lengthAdjust="spacingAndGlyphs">derivative <tspan font-weight="bold">P4b</tspan> (+351 Da)</text>
<text x="569.90" y="459.80" font-size="10.3" fill="#1a1a1a" textLength="68.1" lengthAdjust="spacingAndGlyphs"><tspan font-style="italic">N</tspan>-succinamide</text>
<text x="569.90" y="471.80" font-size="10.3" fill="#1a1a1a" textLength="88.0" lengthAdjust="spacingAndGlyphs">fragment (+115 Da)</text>
<text x="569.90" y="501.90" font-size="10.3" fill="#1a1a1a" textLength="97.0" lengthAdjust="spacingAndGlyphs"><tspan font-style="italic">N</tspan>-acyl derivative <tspan font-weight="bold">P4a</tspan></text>
<text x="569.90" y="514.00" font-size="10.3" fill="#1a1a1a" textLength="45.0" lengthAdjust="spacingAndGlyphs">(+236 Da)</text>
</svg></body></html>
